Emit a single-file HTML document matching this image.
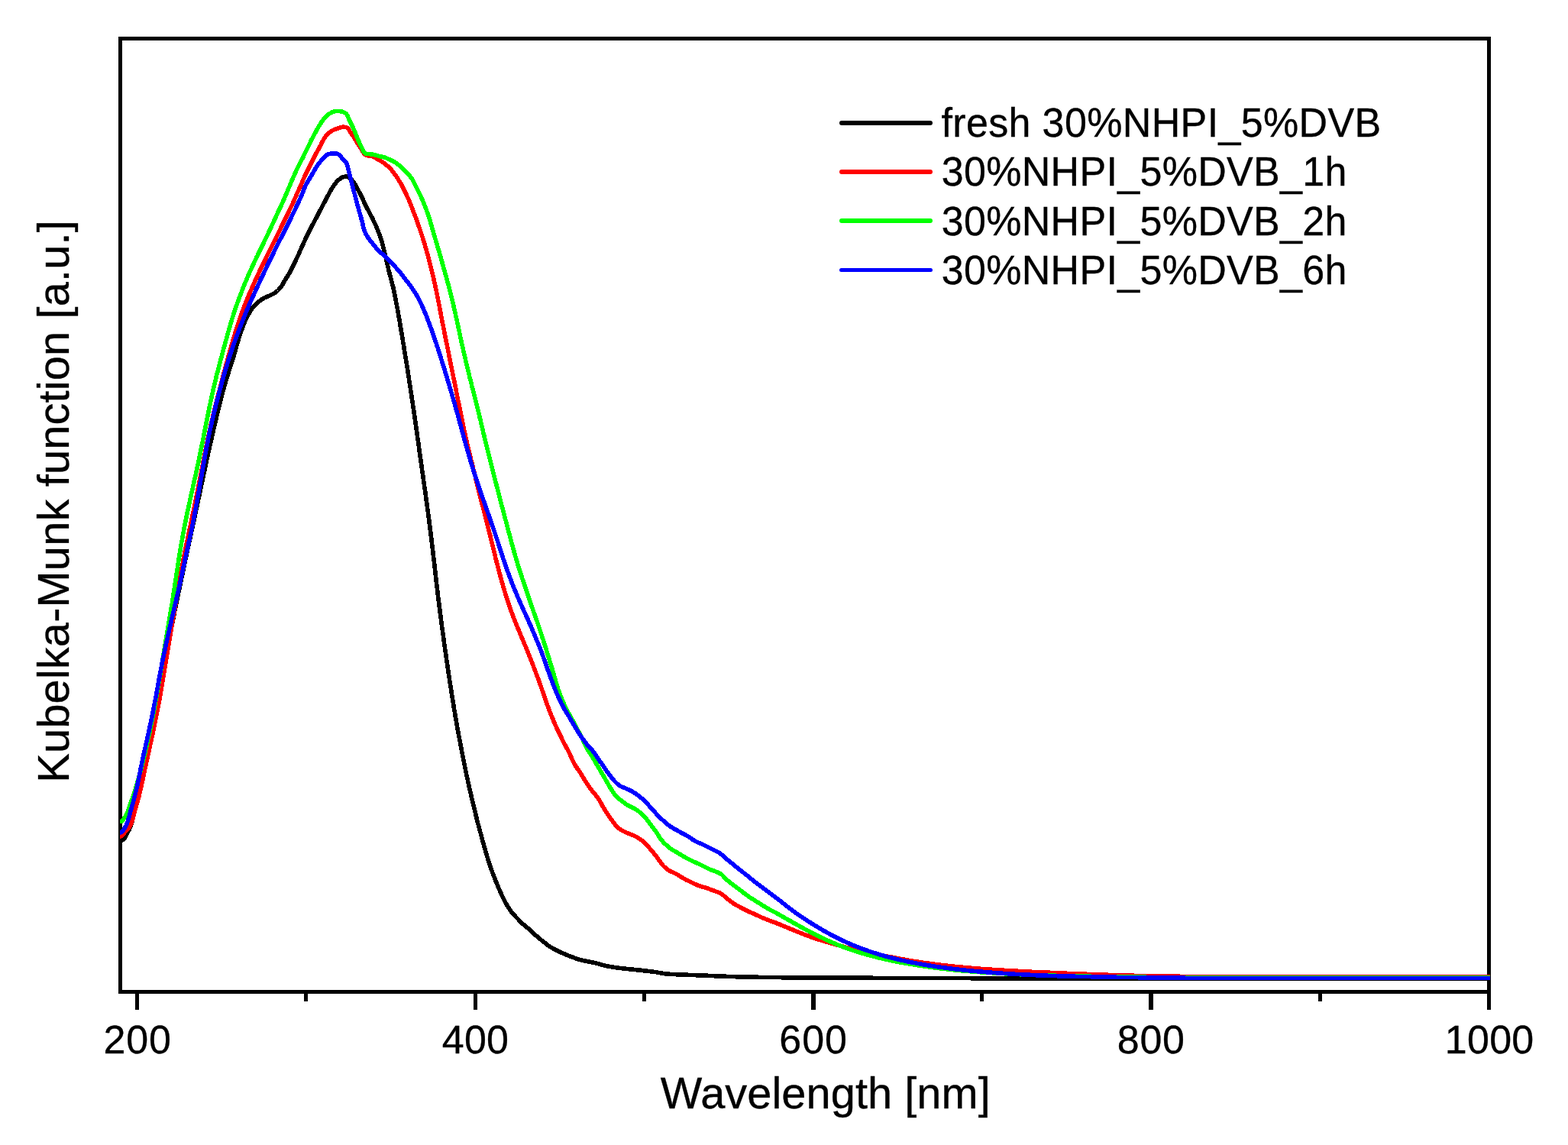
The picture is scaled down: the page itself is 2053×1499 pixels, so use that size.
<!DOCTYPE html>
<html lang="en">
<head>
<meta charset="utf-8">
<title>Kubelka-Munk function vs Wavelength</title>
<style>
html,body{margin:0;padding:0;background:#fff;}
body{width:2053px;height:1499px;overflow:hidden;}
svg{display:block;}
text{font-family:"Liberation Sans",Arial,Helvetica,sans-serif;fill:#000;stroke:#000;stroke-width:0.35px;white-space:pre;}
.curve{fill:none;stroke-width:5.6;stroke-linejoin:round;stroke-linecap:butt;}
</style>
</head>
<body>
<svg width="2053" height="1499" viewBox="0 0 2053 1499">
<rect x="0" y="0" width="2053" height="1499" fill="#ffffff"/>
<defs><clipPath id="plotclip"><rect x="157" y="50" width="1794" height="1249"/></clipPath></defs>
<!-- frame -->
<g fill="#000">
<rect x="155" y="48" width="1797" height="5"/>
<rect x="155" y="1296" width="1797" height="5"/>
<rect x="155" y="48" width="5" height="1253"/>
<rect x="1947" y="48" width="5" height="1253"/>
<!-- ticks -->
<rect x="177" y="1298" width="5" height="24"/>
<rect x="620" y="1298" width="5" height="24"/>
<rect x="1062" y="1298" width="6" height="24"/>
<rect x="1504" y="1298" width="6" height="24"/>
<rect x="1947" y="1298" width="5" height="24"/>
<rect x="398" y="1298" width="5" height="13"/>
<rect x="841" y="1298" width="5" height="13"/>
<rect x="1283" y="1298" width="5" height="13"/>
<rect x="1726" y="1298" width="5" height="13"/>
</g>
<!-- curves -->
<g clip-path="url(#plotclip)" shape-rendering="crispEdges">
<path class="curve" stroke="#000000" d="M154.0,1099.0 158.8,1099.9 160.7,1099.7 162.1,1098.5 163.3,1096.9 164.3,1095.1 165.2,1093.3 166.2,1091.5 167.1,1089.8 168.1,1088.0 169.0,1086.3 169.9,1084.5 170.7,1082.6 171.4,1080.8 172.1,1078.9 172.6,1077.0 173.1,1075.0 173.6,1073.1 174.0,1071.1 174.4,1069.2 174.8,1067.2 175.3,1065.3 175.7,1063.3 176.2,1061.4 176.7,1059.4 177.2,1057.5 177.7,1055.6 178.2,1053.6 178.8,1051.7 179.3,1049.8 179.9,1047.9 180.4,1045.9 180.9,1044.0 181.4,1042.1 181.9,1040.1 182.4,1038.2 182.9,1036.2 183.3,1034.3 183.8,1032.4 184.2,1030.4 184.7,1028.5 185.1,1026.5 185.5,1024.5 185.9,1022.6 186.3,1020.6 186.7,1018.7 187.2,1016.7 187.6,1014.8 188.0,1012.8 188.4,1010.8 188.8,1008.9 189.2,1006.9 189.6,1005.0 190.1,1003.0 190.5,1001.1 190.9,999.1 191.3,997.2 191.8,995.2 192.2,993.2 192.6,991.3 193.1,989.3 193.5,987.4 193.9,985.4 194.4,983.5 194.8,981.5 195.2,979.6 195.6,977.6 196.1,975.7 196.5,973.7 196.9,971.8 197.4,969.8 197.8,967.9 198.2,965.9 198.6,963.9 199.0,962.0 199.5,960.0 199.9,958.1 200.3,956.1 200.7,954.2 201.1,952.2 201.5,950.2 201.9,948.3 202.3,946.3 202.7,944.4 203.1,942.4 203.5,940.4 203.9,938.5 204.3,936.5 204.7,934.6 205.1,932.6 205.5,930.6 205.9,928.7 206.2,926.7 206.6,924.8 207.0,922.8 207.4,920.8 207.7,918.9 208.1,916.9 208.4,914.9 208.8,913.0 209.1,911.0 209.5,909.0 209.8,907.0 210.2,905.1 210.5,903.1 210.8,901.1 211.1,899.2 211.5,897.2 211.8,895.2 212.1,893.2 212.4,891.3 212.8,889.3 213.1,887.3 213.4,885.3 213.7,883.4 214.1,881.4 214.4,879.4 214.7,877.4 215.0,875.5 215.4,873.5 215.7,871.5 216.0,869.6 216.4,867.6 216.7,865.6 217.0,863.6 217.4,861.7 217.7,859.7 218.0,857.7 218.4,855.8 218.7,853.8 219.1,851.8 219.4,849.9 219.8,847.9 220.1,845.9 220.5,843.9 220.8,842.0 221.2,840.0 221.5,838.0 221.9,836.1 222.2,834.1 222.6,832.1 223.0,830.2 223.3,828.2 223.7,826.3 224.1,824.3 224.4,822.3 224.8,820.4 225.2,818.4 225.6,816.4 225.9,814.5 226.3,812.5 226.7,810.5 227.1,808.6 227.5,806.6 227.8,804.7 228.2,802.7 228.6,800.7 229.0,798.8 229.4,796.8 229.8,794.9 230.2,792.9 230.6,790.9 231.0,789.0 231.4,787.0 231.8,785.1 232.2,783.1 232.6,781.1 233.0,779.2 233.4,777.2 233.9,775.3 234.3,773.3 234.7,771.4 235.1,769.4 235.5,767.4 235.9,765.5 236.3,763.5 236.7,761.6 237.1,759.6 237.6,757.7 238.0,755.7 238.4,753.7 238.8,751.8 239.2,749.8 239.6,747.9 240.0,745.9 240.4,743.9 240.8,742.0 241.2,740.0 241.6,738.1 242.1,736.1 242.5,734.2 242.9,732.2 243.3,730.2 243.7,728.3 244.1,726.3 244.5,724.4 245.0,722.4 245.4,720.5 245.8,718.5 246.2,716.6 246.7,714.6 247.1,712.7 247.5,710.7 248.0,708.7 248.4,706.8 248.8,704.8 249.2,702.9 249.7,700.9 250.1,699.0 250.5,697.0 250.9,695.1 251.4,693.1 251.8,691.2 252.2,689.2 252.6,687.3 253.1,685.3 253.5,683.3 253.9,681.4 254.3,679.4 254.8,677.5 255.2,675.5 255.6,673.6 256.0,671.6 256.4,669.7 256.8,667.7 257.3,665.7 257.7,663.8 258.1,661.8 258.5,659.9 258.9,657.9 259.3,656.0 259.7,654.0 260.1,652.0 260.5,650.1 261.0,648.1 261.4,646.2 261.8,644.2 262.2,642.3 262.6,640.3 263.0,638.3 263.4,636.4 263.8,634.4 264.3,632.5 264.7,630.5 265.1,628.6 265.5,626.6 265.9,624.6 266.3,622.7 266.7,620.7 267.2,618.8 267.6,616.8 268.0,614.9 268.4,612.9 268.8,611.0 269.3,609.0 269.7,607.0 270.1,605.1 270.5,603.1 270.9,601.2 271.4,599.2 271.8,597.3 272.2,595.3 272.6,593.4 273.1,591.4 273.5,589.5 273.9,587.5 274.4,585.5 274.8,583.6 275.2,581.6 275.7,579.7 276.1,577.7 276.6,575.8 277.0,573.8 277.4,571.9 277.9,569.9 278.3,568.0 278.8,566.0 279.2,564.1 279.7,562.1 280.1,560.2 280.6,558.2 281.0,556.3 281.5,554.4 281.9,552.4 282.4,550.5 282.9,548.5 283.3,546.6 283.8,544.6 284.3,542.7 284.7,540.7 285.2,538.8 285.7,536.8 286.1,534.9 286.6,533.0 287.1,531.0 287.6,529.1 288.0,527.1 288.5,525.2 289.0,523.2 289.5,521.3 290.0,519.4 290.5,517.4 291.0,515.5 291.5,513.6 292.1,511.6 292.6,509.7 293.1,507.8 293.7,505.9 294.2,503.9 294.8,502.0 295.3,500.1 295.9,498.2 296.5,496.3 297.1,494.4 297.7,492.4 298.3,490.5 298.9,488.6 299.5,486.7 300.1,484.8 300.7,482.9 301.3,481.0 302.0,479.1 302.6,477.2 303.3,475.3 303.9,473.4 304.5,471.5 305.1,469.6 305.7,467.7 306.2,465.8 306.7,463.9 307.3,461.9 307.8,460.0 308.3,458.1 308.8,456.1 309.4,454.2 309.9,452.3 310.5,450.4 311.1,448.5 311.6,446.5 312.2,444.6 312.8,442.7 313.4,440.8 314.0,438.9 314.6,437.0 315.3,435.1 315.9,433.2 316.6,431.3 317.3,429.5 318.0,427.6 318.7,425.7 319.5,423.9 320.2,422.0 321.0,420.2 321.8,418.4 322.7,416.5 323.6,414.8 324.5,413.0 325.5,411.2 326.5,409.5 327.5,407.8 328.6,406.1 329.7,404.4 330.9,402.8 332.1,401.2 333.4,399.7 334.8,398.3 336.2,396.9 337.8,395.7 339.4,394.4 341.0,393.3 342.6,392.1 344.3,391.0 346.0,390.0 347.8,389.2 349.7,388.4 351.5,387.7 353.4,386.9 355.2,386.0 357.0,385.1 358.7,384.1 360.4,383.0 362.0,381.8 363.5,380.5 364.9,379.1 366.3,377.6 367.5,376.1 368.7,374.4 369.8,372.8 370.8,371.0 371.7,369.3 372.7,367.5 373.8,365.8 374.8,364.1 375.9,362.5 377.0,360.8 378.0,359.1 379.0,357.3 380.0,355.6 380.9,353.8 381.8,352.0 382.7,350.2 383.6,348.4 384.5,346.6 385.3,344.8 386.2,343.0 387.1,341.2 387.9,339.4 388.8,337.6 389.6,335.8 390.5,334.0 391.3,332.2 392.1,330.3 392.9,328.5 393.7,326.7 394.5,324.9 395.3,323.0 396.1,321.2 397.0,319.4 397.8,317.5 398.6,315.7 399.5,313.9 400.3,312.1 401.2,310.3 402.1,308.5 402.9,306.7 403.8,304.9 404.7,303.1 405.6,301.4 406.5,299.6 407.4,297.8 408.3,296.0 409.3,294.2 410.2,292.5 411.1,290.7 412.1,288.9 413.0,287.2 414.0,285.4 414.9,283.6 415.8,281.9 416.8,280.1 417.7,278.3 418.6,276.5 419.5,274.8 420.4,273.0 421.4,271.2 422.3,269.4 423.2,267.7 424.1,265.9 425.1,264.1 426.0,262.3 426.9,260.6 427.9,258.8 428.8,257.0 429.8,255.3 430.7,253.5 431.7,251.8 432.7,250.0 433.7,248.3 434.7,246.6 435.7,244.9 436.8,243.2 438.0,241.6 439.2,240.0 440.5,238.4 441.8,237.0 443.3,235.6 444.8,234.3 446.4,233.1 448.2,232.2 450.1,231.5 452.1,231.1 454.0,231.1 455.8,231.6 457.5,232.7 459.0,234.0 460.5,235.4 461.8,236.9 463.1,238.4 464.2,240.1 465.2,241.8 466.1,243.6 467.0,245.4 468.0,247.1 468.9,248.9 469.9,250.7 470.9,252.4 471.8,254.2 472.7,255.9 473.6,257.7 474.5,259.5 475.3,261.3 476.1,263.2 476.9,265.0 477.7,266.8 478.6,268.7 479.5,270.4 480.4,272.2 481.4,274.0 482.3,275.7 483.2,277.5 484.2,279.3 485.1,281.0 486.0,282.8 487.0,284.6 487.9,286.4 488.7,288.2 489.6,290.0 490.4,291.8 491.3,293.6 492.1,295.4 492.9,297.3 493.6,299.1 494.4,301.0 495.1,302.8 495.9,304.7 496.6,306.6 497.3,308.4 498.0,310.3 498.6,312.2 499.2,314.1 499.8,316.0 500.3,317.9 500.9,319.9 501.4,321.8 501.8,323.8 502.3,325.7 502.8,327.6 503.3,329.6 503.8,331.5 504.2,333.5 504.7,335.4 505.2,337.4 505.6,339.3 506.1,341.2 506.5,343.2 507.0,345.1 507.4,347.1 507.8,349.1 508.3,351.0 508.7,353.0 509.2,354.9 509.7,356.8 510.2,358.8 510.7,360.7 511.2,362.6 511.8,364.6 512.3,366.5 512.8,368.4 513.3,370.3 513.8,372.3 514.3,374.2 514.8,376.2 515.2,378.1 515.6,380.1 516.0,382.0 516.4,384.0 516.8,386.0 517.2,387.9 517.6,389.9 518.0,391.9 518.3,393.8 518.7,395.8 519.1,397.8 519.5,399.7 519.8,401.7 520.2,403.6 520.6,405.6 520.9,407.6 521.3,409.5 521.6,411.5 522.0,413.5 522.3,415.5 522.7,417.4 523.0,419.4 523.4,421.4 523.7,423.3 524.0,425.3 524.3,427.3 524.7,429.3 525.0,431.2 525.3,433.2 525.6,435.2 526.0,437.1 526.3,439.1 526.6,441.1 527.0,443.1 527.3,445.0 527.6,447.0 527.9,449.0 528.3,451.0 528.6,452.9 528.9,454.9 529.2,456.9 529.5,458.9 529.9,460.8 530.2,462.8 530.5,464.8 530.8,466.8 531.1,468.7 531.5,470.7 531.8,472.7 532.1,474.7 532.4,476.6 532.7,478.6 533.1,480.6 533.4,482.6 533.7,484.5 534.0,486.5 534.3,488.5 534.6,490.5 534.9,492.4 535.2,494.4 535.5,496.4 535.8,498.4 536.1,500.3 536.4,502.3 536.7,504.3 537.0,506.3 537.3,508.2 537.6,510.2 537.9,512.2 538.2,514.2 538.5,516.2 538.8,518.1 539.1,520.1 539.4,522.1 539.7,524.1 540.0,526.0 540.3,528.0 540.6,530.0 540.9,532.0 541.2,534.0 541.5,535.9 541.8,537.9 542.1,539.9 542.3,541.9 542.6,543.9 542.9,545.8 543.2,547.8 543.5,549.8 543.8,551.8 544.0,553.8 544.3,555.7 544.6,557.7 544.9,559.7 545.2,561.7 545.5,563.7 545.7,565.6 546.0,567.6 546.3,569.6 546.6,571.6 546.8,573.6 547.1,575.5 547.4,577.5 547.7,579.5 547.9,581.5 548.2,583.5 548.5,585.4 548.8,587.4 549.0,589.4 549.3,591.4 549.6,593.4 549.8,595.3 550.1,597.3 550.4,599.3 550.7,601.3 551.0,603.3 551.2,605.3 551.5,607.2 551.8,609.2 552.1,611.2 552.4,613.2 552.6,615.2 552.9,617.1 553.2,619.1 553.5,621.1 553.8,623.1 554.1,625.1 554.3,627.0 554.6,629.0 554.9,631.0 555.2,633.0 555.5,635.0 555.7,636.9 556.0,638.9 556.3,640.9 556.6,642.9 556.9,644.9 557.1,646.8 557.4,648.8 557.7,650.8 558.0,652.8 558.2,654.8 558.5,656.7 558.8,658.7 559.0,660.7 559.3,662.7 559.6,664.7 559.8,666.7 560.1,668.6 560.4,670.6 560.6,672.6 560.9,674.6 561.1,676.6 561.4,678.5 561.7,680.5 561.9,682.5 562.2,684.5 562.4,686.5 562.7,688.5 562.9,690.4 563.2,692.4 563.4,694.4 563.7,696.4 563.9,698.4 564.2,700.4 564.4,702.4 564.7,704.3 564.9,706.3 565.1,708.3 565.4,710.3 565.6,712.3 565.9,714.3 566.1,716.3 566.3,718.2 566.6,720.2 566.8,722.2 567.0,724.2 567.3,726.2 567.5,728.2 567.7,730.2 568.0,732.1 568.2,734.1 568.4,736.1 568.7,738.1 568.9,740.1 569.1,742.1 569.3,744.1 569.6,746.0 569.8,748.0 570.0,750.0 570.2,752.0 570.5,754.0 570.7,756.0 570.9,758.0 571.1,760.0 571.4,762.0 571.6,763.9 571.8,765.9 572.1,767.9 572.3,769.9 572.5,771.9 572.8,773.9 573.0,775.9 573.2,777.8 573.5,779.8 573.7,781.8 574.0,783.8 574.2,785.8 574.5,787.8 574.7,789.7 575.0,791.7 575.2,793.7 575.5,795.7 575.7,797.7 576.0,799.7 576.2,801.7 576.5,803.6 576.7,805.6 577.0,807.6 577.3,809.6 577.5,811.6 577.8,813.5 578.1,815.5 578.3,817.5 578.6,819.5 578.8,821.5 579.1,823.5 579.4,825.4 579.6,827.4 579.9,829.4 580.2,831.4 580.5,833.4 580.7,835.3 581.0,837.3 581.3,839.3 581.5,841.3 581.8,843.3 582.1,845.3 582.4,847.2 582.6,849.2 582.9,851.2 583.2,853.2 583.5,855.2 583.8,857.1 584.0,859.1 584.3,861.1 584.6,863.1 584.9,865.1 585.2,867.0 585.5,869.0 585.8,871.0 586.0,873.0 586.3,874.9 586.6,876.9 586.9,878.9 587.2,880.9 587.5,882.9 587.8,884.8 588.1,886.8 588.4,888.8 588.7,890.8 589.0,892.7 589.3,894.7 589.6,896.7 589.9,898.7 590.3,900.7 590.6,902.6 590.9,904.6 591.2,906.6 591.5,908.6 591.8,910.5 592.1,912.5 592.4,914.5 592.7,916.5 593.0,918.4 593.4,920.4 593.7,922.4 594.0,924.4 594.3,926.3 594.6,928.3 595.0,930.3 595.3,932.2 595.6,934.2 596.0,936.2 596.3,938.2 596.7,940.1 597.0,942.1 597.3,944.1 597.7,946.0 598.0,948.0 598.4,950.0 598.7,951.9 599.1,953.9 599.4,955.9 599.8,957.9 600.2,959.8 600.5,961.8 600.9,963.8 601.2,965.7 601.6,967.7 602.0,969.7 602.4,971.6 602.7,973.6 603.1,975.6 603.5,977.5 603.9,979.5 604.2,981.4 604.6,983.4 605.0,985.4 605.4,987.3 605.8,989.3 606.2,991.3 606.6,993.2 606.9,995.2 607.3,997.1 607.7,999.1 608.1,1001.1 608.5,1003.0 608.9,1005.0 609.3,1006.9 609.7,1008.9 610.1,1010.9 610.5,1012.8 610.9,1014.8 611.4,1016.7 611.8,1018.7 612.2,1020.6 612.6,1022.6 613.0,1024.6 613.5,1026.5 613.9,1028.5 614.3,1030.4 614.7,1032.4 615.2,1034.3 615.6,1036.3 616.1,1038.2 616.6,1040.2 617.0,1042.1 617.5,1044.0 618.0,1046.0 618.5,1047.9 618.9,1049.9 619.4,1051.8 619.9,1053.8 620.4,1055.7 620.8,1057.6 621.3,1059.6 621.7,1061.5 622.2,1063.5 622.7,1065.4 623.1,1067.4 623.6,1069.3 624.1,1071.3 624.5,1073.2 625.0,1075.1 625.5,1077.1 626.0,1079.0 626.6,1080.9 627.1,1082.9 627.6,1084.8 628.1,1086.7 628.6,1088.7 629.2,1090.6 629.7,1092.5 630.2,1094.5 630.7,1096.4 631.2,1098.3 631.8,1100.3 632.3,1102.2 632.8,1104.1 633.4,1106.0 633.9,1108.0 634.5,1109.9 635.0,1111.8 635.6,1113.7 636.1,1115.6 636.7,1117.6 637.3,1119.5 637.8,1121.4 638.4,1123.3 639.0,1125.2 639.6,1127.1 640.2,1129.0 640.8,1130.9 641.5,1132.8 642.1,1134.7 642.8,1136.6 643.4,1138.5 644.1,1140.4 644.8,1142.3 645.5,1144.1 646.2,1146.0 646.9,1147.9 647.7,1149.7 648.4,1151.6 649.1,1153.5 649.9,1155.3 650.6,1157.2 651.4,1159.0 652.2,1160.9 652.9,1162.7 653.7,1164.5 654.5,1166.4 655.3,1168.2 656.2,1170.0 657.0,1171.8 657.8,1173.7 658.7,1175.5 659.6,1177.3 660.5,1179.0 661.4,1180.8 662.4,1182.6 663.4,1184.3 664.4,1186.0 665.4,1187.7 666.5,1189.4 667.6,1191.1 668.8,1192.7 670.0,1194.3 671.3,1195.8 672.6,1197.3 674.0,1198.8 675.3,1200.3 676.7,1201.7 678.1,1203.1 679.5,1204.6 680.9,1206.0 682.3,1207.4 683.7,1208.8 685.2,1210.2 686.7,1211.5 688.2,1212.8 689.8,1214.1 691.3,1215.3 692.8,1216.6 694.4,1217.9 695.8,1219.3 697.3,1220.7 698.7,1222.1 700.2,1223.4 701.7,1224.7 703.2,1226.0 704.7,1227.3 706.3,1228.6 707.8,1229.9 709.3,1231.2 710.8,1232.5 712.5,1233.7 714.1,1234.8 715.7,1236.0 717.2,1237.3 718.8,1238.5 720.5,1239.6 722.2,1240.6 723.9,1241.6 725.7,1242.5 727.5,1243.5 729.3,1244.3 731.1,1245.2 732.9,1246.1 734.7,1247.0 736.5,1247.8 738.3,1248.6 740.2,1249.4 742.0,1250.2 743.9,1250.9 745.7,1251.7 747.6,1252.4 749.5,1253.1 751.3,1253.8 753.2,1254.5 755.1,1255.2 757.0,1255.8 758.9,1256.4 760.8,1256.9 762.8,1257.3 764.7,1257.8 766.7,1258.2 768.7,1258.5 770.6,1258.9 772.6,1259.3 774.6,1259.7 776.5,1260.1 778.5,1260.5 780.4,1261.0 782.3,1261.5 784.3,1262.0 786.2,1262.6 788.1,1263.1 790.1,1263.6 792.0,1264.1 793.9,1264.6 795.9,1265.0 797.9,1265.4 799.8,1265.7 801.8,1266.0 803.8,1266.3 805.8,1266.6 807.7,1266.9 809.7,1267.1 811.7,1267.4 813.7,1267.6 815.7,1267.9 817.7,1268.1 819.7,1268.3 821.6,1268.5 823.6,1268.7 825.6,1268.9 827.6,1269.1 829.6,1269.3 831.6,1269.5 833.6,1269.7 835.6,1269.9 837.6,1270.1 839.6,1270.3 841.5,1270.6 843.5,1270.8 845.5,1271.0 847.5,1271.3 849.5,1271.5 851.5,1271.7 853.5,1272.0 855.4,1272.2 857.4,1272.5 859.4,1272.8 861.4,1273.2 863.3,1273.5 865.3,1273.9 867.3,1274.2 869.3,1274.5 871.2,1274.8 873.2,1275.0 875.2,1275.2 877.2,1275.3 879.2,1275.4 881.2,1275.5 883.2,1275.6 885.2,1275.7 887.2,1275.7 889.2,1275.8 891.2,1275.9 893.2,1275.9 895.2,1276.0 897.2,1276.1 899.2,1276.2 901.2,1276.3 903.2,1276.3 905.2,1276.4 907.2,1276.5 909.2,1276.6 911.2,1276.7 913.2,1276.7 915.2,1276.8 917.2,1276.9 919.2,1277.0 921.2,1277.0 923.2,1277.1 925.2,1277.2 927.2,1277.3 929.2,1277.4 931.2,1277.5 933.2,1277.6 935.2,1277.7 937.2,1277.8 939.2,1277.8 941.2,1277.9 943.2,1278.0 945.2,1278.1 947.2,1278.2 949.1,1278.2 951.1,1278.3 953.1,1278.4 955.1,1278.4 957.1,1278.5 959.1,1278.5 961.1,1278.6 963.1,1278.7 965.1,1278.7 967.1,1278.8 969.1,1278.8 971.1,1278.9 973.1,1278.9 975.1,1278.9 977.1,1279.0 979.1,1279.0 981.1,1279.1 983.1,1279.1 985.1,1279.1 987.1,1279.2 989.1,1279.2 991.1,1279.2 993.1,1279.3 995.1,1279.3 997.1,1279.3 999.1,1279.4 1001.1,1279.4 1003.1,1279.4 1005.1,1279.5 1007.1,1279.5 1009.1,1279.5 1011.1,1279.5 1013.1,1279.6 1015.1,1279.6 1017.1,1279.6 1019.1,1279.6 1021.1,1279.6 1023.1,1279.7 1025.1,1279.7 1027.1,1279.7 1029.1,1279.7 1031.1,1279.7 1033.1,1279.7 1035.1,1279.8 1037.1,1279.8 1039.1,1279.8 1041.1,1279.8 1043.1,1279.8 1045.1,1279.8 1047.1,1279.9 1049.1,1279.9 1051.1,1279.9 1053.1,1279.9 1055.1,1279.9 1057.1,1279.9 1059.1,1279.9 1061.1,1279.9 1063.1,1280.0 1065.1,1280.0 1067.1,1280.0 1069.1,1280.0 1071.1,1280.0 1073.1,1280.0 1075.1,1280.0 1077.1,1280.0 1079.1,1280.0 1081.1,1280.1 1083.1,1280.1 1085.1,1280.1 1087.1,1280.1 1089.1,1280.1 1091.1,1280.1 1093.1,1280.1 1095.1,1280.1 1097.1,1280.1 1099.1,1280.1 1101.1,1280.1 1103.1,1280.1 1105.1,1280.1 1107.1,1280.1 1109.1,1280.2 1111.1,1280.2 1113.1,1280.2 1115.1,1280.2 1117.1,1280.2 1119.1,1280.2 1121.1,1280.2 1123.1,1280.2 1125.1,1280.2 1127.1,1280.2 1129.1,1280.2 1131.1,1280.2 1133.1,1280.2 1135.1,1280.2 1137.1,1280.2 1139.1,1280.2 1141.1,1280.2 1143.1,1280.3 1145.1,1280.3 1147.1,1280.3 1149.1,1280.3 1151.1,1280.3 1153.1,1280.3 1155.1,1280.3 1157.1,1280.3 1159.1,1280.3 1161.1,1280.3 1163.1,1280.3 1165.1,1280.3 1167.1,1280.3 1169.1,1280.3 1171.1,1280.3 1173.1,1280.3 1175.1,1280.4 1177.1,1280.4 1179.1,1280.4 1181.1,1280.4 1183.1,1280.4 1185.1,1280.4 1187.1,1280.4 1189.1,1280.4 1191.1,1280.4 1193.1,1280.4 1195.1,1280.4 1197.1,1280.4 1199.1,1280.4 1201.1,1280.4 1203.1,1280.4 1205.1,1280.5 1207.1,1280.5 1209.1,1280.5 1211.1,1280.5 1213.1,1280.5 1215.1,1280.5 1217.1,1280.5 1219.1,1280.5 1221.1,1280.5 1223.1,1280.5 1225.1,1280.5 1227.1,1280.5 1229.1,1280.5 1231.1,1280.5 1233.1,1280.6 1235.1,1280.6 1237.1,1280.6 1239.1,1280.6 1241.1,1280.6 1243.1,1280.6 1245.1,1280.6 1247.1,1280.6 1249.1,1280.6 1251.1,1280.6 1253.1,1280.6 1255.1,1280.6 1257.1,1280.6 1259.1,1280.6 1261.1,1280.6 1263.1,1280.6 1265.1,1280.6 1267.1,1280.6 1269.1,1280.6 1271.1,1280.7 1273.1,1280.7 1275.1,1280.7 1277.1,1280.7 1279.1,1280.7 1281.1,1280.7 1283.1,1280.7 1285.1,1280.7 1287.1,1280.7 1289.1,1280.7 1291.1,1280.7 1293.1,1280.7 1295.1,1280.7 1297.1,1280.7 1299.1,1280.7 1301.1,1280.7 1303.1,1280.7 1305.1,1280.7 1307.1,1280.7 1309.1,1280.7 1311.1,1280.7 1313.1,1280.7 1315.1,1280.7 1317.1,1280.7 1319.1,1280.7 1321.1,1280.7 1323.1,1280.7 1325.1,1280.7 1327.1,1280.7 1329.1,1280.7 1331.1,1280.7 1333.1,1280.7 1335.1,1280.7 1337.1,1280.7 1339.1,1280.7 1341.1,1280.7 1343.1,1280.7 1345.1,1280.7 1347.1,1280.7 1349.1,1280.7 1351.1,1280.7 1353.1,1280.7 1355.1,1280.7 1357.1,1280.7 1359.1,1280.7 1361.1,1280.7 1363.1,1280.7 1365.1,1280.7 1367.1,1280.7 1369.1,1280.7 1371.1,1280.7 1373.1,1280.7 1375.1,1280.7 1377.1,1280.7 1379.1,1280.7 1381.1,1280.7 1383.1,1280.7 1385.1,1280.7 1387.1,1280.7 1389.1,1280.7 1391.1,1280.7 1393.1,1280.7 1395.1,1280.7 1397.1,1280.7 1399.1,1280.7 1401.1,1280.7 1403.1,1280.7 1405.1,1280.8 1407.1,1280.8 1409.1,1280.8 1411.1,1280.8 1413.1,1280.8 1415.1,1280.8 1417.1,1280.8 1419.1,1280.8 1421.1,1280.8 1423.1,1280.8 1425.1,1280.8 1427.1,1280.8 1429.1,1280.8 1431.1,1280.8 1433.1,1280.8 1435.1,1280.8 1437.1,1280.8 1439.1,1280.8 1441.1,1280.8 1443.1,1280.8 1445.1,1280.8 1447.1,1280.8 1449.1,1280.8 1451.1,1280.8 1453.1,1280.8 1455.1,1280.8 1457.1,1280.8 1459.1,1280.8 1461.1,1280.8 1463.1,1280.8 1465.1,1280.8 1467.1,1280.8 1469.1,1280.8 1471.1,1280.8 1473.1,1280.8 1475.1,1280.8 1477.1,1280.8 1479.1,1280.8 1481.1,1280.8 1483.1,1280.8 1485.1,1280.8 1487.1,1280.8 1489.1,1280.8 1491.1,1280.8 1493.1,1280.8 1495.1,1280.8 1497.1,1280.8 1499.1,1280.8 1501.1,1280.8 1503.1,1280.8 1505.1,1280.8 1507.1,1280.8 1509.1,1280.8 1511.1,1280.8 1513.1,1280.8 1515.1,1280.8 1517.1,1280.8 1519.1,1280.8 1521.1,1280.8 1523.1,1280.8 1525.1,1280.8 1527.1,1280.8 1529.1,1280.8 1531.1,1280.8 1533.1,1280.8 1535.1,1280.8 1537.1,1280.8 1539.1,1280.8 1541.1,1280.8 1543.1,1280.8 1545.1,1280.8 1547.1,1280.8 1549.1,1280.8 1551.1,1280.8 1553.1,1280.8 1555.1,1280.8 1557.1,1280.8 1559.1,1280.8 1561.1,1280.8 1563.1,1280.8 1565.1,1280.8 1567.1,1280.8 1569.1,1280.8 1571.1,1280.8 1573.1,1280.8 1575.1,1280.8 1577.1,1280.8 1579.1,1280.8 1581.1,1280.8 1583.1,1280.8 1585.1,1280.8 1587.1,1280.8 1589.1,1280.8 1591.1,1280.8 1593.1,1280.8 1595.1,1280.8 1597.1,1280.8 1599.1,1280.8 1601.1,1280.8 1603.1,1280.8 1605.1,1280.8 1607.1,1280.8 1609.1,1280.8 1611.1,1280.8 1613.1,1280.8 1615.1,1280.8 1617.1,1280.8 1619.1,1280.8 1621.1,1280.8 1623.1,1280.8 1625.1,1280.8 1627.1,1280.8 1629.1,1280.8 1631.1,1280.8 1633.1,1280.8 1635.1,1280.8 1637.1,1280.8 1639.1,1280.8 1641.1,1280.8 1643.1,1280.8 1645.1,1280.8 1647.1,1280.8 1649.1,1280.8 1651.1,1280.8 1653.1,1280.8 1655.1,1280.8 1657.1,1280.8 1659.1,1280.8 1661.1,1280.8 1663.1,1280.8 1665.1,1280.8 1667.1,1280.8 1669.1,1280.8 1671.1,1280.8 1673.1,1280.8 1675.1,1280.8 1677.1,1280.8 1679.1,1280.8 1681.1,1280.8 1683.1,1280.8 1685.1,1280.8 1687.1,1280.8 1689.1,1280.8 1691.1,1280.8 1693.1,1280.8 1695.1,1280.8 1697.1,1280.8 1699.1,1280.8 1701.1,1280.8 1703.1,1280.8 1705.1,1280.8 1707.1,1280.8 1709.1,1280.8 1711.1,1280.8 1713.1,1280.8 1715.1,1280.8 1717.1,1280.8 1719.1,1280.8 1721.1,1280.8 1723.1,1280.8 1725.1,1280.8 1727.1,1280.8 1729.1,1280.8 1731.1,1280.8 1733.1,1280.8 1735.1,1280.8 1737.1,1280.8 1739.1,1280.8 1741.1,1280.8 1743.1,1280.8 1745.1,1280.8 1747.1,1280.8 1749.1,1280.8 1751.1,1280.8 1753.1,1280.8 1755.1,1280.8 1757.1,1280.8 1759.1,1280.8 1761.1,1280.8 1763.1,1280.8 1765.1,1280.8 1767.1,1280.8 1769.1,1280.9 1771.1,1280.9 1773.1,1280.9 1775.1,1280.9 1777.1,1280.9 1779.1,1280.9 1781.1,1280.9 1783.1,1280.9 1785.1,1280.9 1787.1,1280.9 1789.1,1280.9 1791.1,1280.9 1793.1,1280.9 1795.1,1280.9 1797.1,1280.9 1799.1,1280.9 1801.1,1280.9 1803.1,1280.9 1805.1,1280.9 1807.1,1280.9 1809.1,1280.9 1811.1,1280.9 1813.1,1280.9 1815.1,1280.9 1817.1,1280.9 1819.1,1280.9 1821.1,1280.9 1823.1,1280.9 1825.1,1280.9 1827.1,1280.9 1829.1,1280.9 1831.1,1280.9 1833.1,1280.9 1835.1,1280.9 1837.1,1280.9 1839.1,1280.9 1841.1,1280.9 1843.1,1280.9 1845.1,1280.9 1847.1,1280.9 1849.1,1280.9 1851.1,1280.9 1853.1,1280.9 1855.1,1280.9 1857.1,1280.9 1859.1,1280.9 1861.1,1280.9 1863.1,1280.9 1865.1,1280.9 1867.1,1280.9 1869.1,1280.9 1871.1,1280.9 1873.1,1280.9 1875.1,1280.9 1877.1,1280.9 1879.1,1280.9 1881.1,1280.9 1883.1,1280.9 1885.1,1280.9 1887.1,1280.9 1889.1,1280.9 1891.1,1280.9 1893.1,1280.9 1895.1,1280.9 1897.1,1280.9 1899.1,1280.9 1901.1,1280.9 1903.1,1280.9 1905.1,1280.9 1907.1,1280.9 1909.1,1280.9 1911.1,1280.9 1913.1,1280.9 1915.1,1280.9 1917.1,1280.9 1919.1,1280.9 1921.1,1280.9 1923.1,1280.9 1925.1,1280.9 1927.1,1280.9 1929.1,1280.9 1931.1,1280.9 1933.1,1280.9 1935.1,1280.9 1937.1,1280.9 1939.1,1280.9 1941.1,1280.9 1943.1,1280.9 1945.1,1280.9 1947.1,1280.9 1949.1,1280.9 1953.0,1280.9"/>
<path class="curve" stroke="#ff0000" d="M154.0,1096.0 158.5,1094.6 159.9,1093.3 161.3,1091.8 162.7,1090.4 164.0,1088.9 165.4,1087.5 166.8,1086.0 168.1,1084.5 169.3,1082.9 170.3,1081.2 171.3,1079.4 172.0,1077.6 172.7,1075.7 173.3,1073.8 173.8,1071.8 174.4,1069.9 174.9,1068.0 175.4,1066.0 175.9,1064.1 176.4,1062.2 176.9,1060.2 177.5,1058.3 178.0,1056.4 178.6,1054.5 179.1,1052.6 179.7,1050.6 180.2,1048.7 180.7,1046.8 181.2,1044.8 181.8,1042.9 182.2,1041.0 182.7,1039.0 183.2,1037.1 183.7,1035.1 184.1,1033.2 184.6,1031.2 185.0,1029.3 185.4,1027.3 185.8,1025.4 186.2,1023.4 186.7,1021.5 187.1,1019.5 187.5,1017.5 187.9,1015.6 188.3,1013.6 188.7,1011.7 189.1,1009.7 189.5,1007.8 190.0,1005.8 190.4,1003.9 190.8,1001.9 191.2,999.9 191.7,998.0 192.1,996.0 192.5,994.1 193.0,992.1 193.4,990.2 193.8,988.2 194.2,986.3 194.7,984.3 195.1,982.4 195.5,980.4 196.0,978.5 196.4,976.5 196.8,974.6 197.3,972.6 197.7,970.6 198.1,968.7 198.5,966.7 199.0,964.8 199.4,962.8 199.8,960.9 200.2,958.9 200.6,957.0 201.0,955.0 201.4,953.0 201.8,951.1 202.2,949.1 202.6,947.2 203.0,945.2 203.4,943.2 203.8,941.3 204.2,939.3 204.6,937.4 205.0,935.4 205.4,933.4 205.8,931.5 206.2,929.5 206.6,927.6 207.0,925.6 207.3,923.6 207.7,921.7 208.1,919.7 208.4,917.7 208.8,915.8 209.2,913.8 209.5,911.8 209.8,909.9 210.2,907.9 210.5,905.9 210.9,904.0 211.2,902.0 211.5,900.0 211.9,898.0 212.2,896.1 212.5,894.1 212.9,892.1 213.2,890.1 213.5,888.2 213.8,886.2 214.2,884.2 214.5,882.3 214.8,880.3 215.1,878.3 215.5,876.3 215.8,874.4 216.1,872.4 216.5,870.4 216.8,868.4 217.1,866.5 217.4,864.5 217.8,862.5 218.1,860.5 218.4,858.6 218.7,856.6 219.1,854.6 219.4,852.7 219.7,850.7 220.0,848.7 220.4,846.7 220.7,844.8 221.0,842.8 221.4,840.8 221.7,838.8 222.0,836.9 222.3,834.9 222.7,832.9 223.0,831.0 223.3,829.0 223.7,827.0 224.0,825.0 224.3,823.1 224.7,821.1 225.0,819.1 225.3,817.2 225.7,815.2 226.0,813.2 226.3,811.2 226.7,809.3 227.0,807.3 227.3,805.3 227.7,803.4 228.0,801.4 228.4,799.4 228.7,797.4 229.0,795.5 229.4,793.5 229.7,791.5 230.0,789.6 230.4,787.6 230.7,785.6 231.1,783.6 231.4,781.7 231.7,779.7 232.1,777.7 232.4,775.8 232.8,773.8 233.1,771.8 233.4,769.9 233.8,767.9 234.1,765.9 234.5,763.9 234.8,762.0 235.2,760.0 235.5,758.0 235.9,756.1 236.2,754.1 236.6,752.1 236.9,750.2 237.3,748.2 237.6,746.2 238.0,744.2 238.3,742.3 238.7,740.3 239.1,738.3 239.4,736.4 239.8,734.4 240.2,732.5 240.5,730.5 240.9,728.5 241.3,726.6 241.7,724.6 242.1,722.6 242.5,720.7 242.9,718.7 243.3,716.8 243.7,714.8 244.1,712.8 244.5,710.9 244.9,708.9 245.3,707.0 245.7,705.0 246.1,703.1 246.5,701.1 247.0,699.1 247.4,697.2 247.8,695.2 248.2,693.3 248.6,691.3 249.0,689.4 249.5,687.4 249.9,685.5 250.3,683.5 250.7,681.5 251.1,679.6 251.5,677.6 251.9,675.7 252.3,673.7 252.8,671.8 253.2,669.8 253.6,667.8 254.0,665.9 254.4,663.9 254.8,662.0 255.2,660.0 255.6,658.0 256.0,656.1 256.4,654.1 256.8,652.2 257.2,650.2 257.6,648.2 258.0,646.3 258.4,644.3 258.8,642.4 259.2,640.4 259.5,638.4 259.9,636.5 260.3,634.5 260.7,632.6 261.1,630.6 261.5,628.6 261.9,626.7 262.2,624.7 262.6,622.7 263.0,620.8 263.4,618.8 263.8,616.8 264.1,614.9 264.5,612.9 264.9,611.0 265.3,609.0 265.6,607.0 266.0,605.1 266.4,603.1 266.8,601.1 267.2,599.2 267.5,597.2 267.9,595.2 268.3,593.3 268.7,591.3 269.1,589.4 269.5,587.4 269.9,585.4 270.3,583.5 270.7,581.5 271.1,579.6 271.5,577.6 271.9,575.6 272.3,573.7 272.7,571.7 273.1,569.8 273.6,567.8 274.0,565.9 274.4,563.9 274.9,562.0 275.3,560.0 275.7,558.1 276.2,556.1 276.6,554.2 277.1,552.2 277.5,550.3 278.0,548.3 278.5,546.4 278.9,544.4 279.4,542.5 279.9,540.5 280.3,538.6 280.8,536.7 281.3,534.7 281.8,532.8 282.2,530.8 282.7,528.9 283.2,527.0 283.7,525.0 284.2,523.1 284.7,521.1 285.2,519.2 285.7,517.3 286.2,515.3 286.7,513.4 287.2,511.5 287.7,509.5 288.2,507.6 288.7,505.6 289.2,503.7 289.7,501.8 290.2,499.8 290.7,497.9 291.2,496.0 291.7,494.0 292.2,492.1 292.7,490.2 293.2,488.2 293.7,486.3 294.3,484.4 294.8,482.4 295.3,480.5 295.8,478.6 296.3,476.6 296.9,474.7 297.4,472.8 297.9,470.8 298.5,468.9 299.0,467.0 299.5,465.1 300.1,463.1 300.6,461.2 301.1,459.3 301.7,457.4 302.2,455.4 302.8,453.5 303.3,451.6 303.9,449.7 304.4,447.7 305.0,445.8 305.6,443.9 306.1,442.0 306.7,440.1 307.3,438.2 307.9,436.2 308.4,434.3 309.0,432.4 309.6,430.5 310.2,428.6 310.9,426.7 311.5,424.8 312.1,422.9 312.7,421.0 313.4,419.1 314.0,417.2 314.6,415.3 315.3,413.4 316.0,411.6 316.6,409.7 317.3,407.8 318.0,405.9 318.7,404.1 319.4,402.2 320.1,400.3 320.9,398.5 321.6,396.6 322.3,394.7 323.1,392.9 323.8,391.0 324.6,389.2 325.4,387.4 326.1,385.5 326.9,383.7 327.7,381.8 328.5,380.0 329.3,378.2 330.1,376.3 330.9,374.5 331.8,372.7 332.6,370.9 333.4,369.1 334.2,367.2 335.1,365.4 335.9,363.6 336.8,361.8 337.6,360.0 338.4,358.2 339.3,356.4 340.1,354.5 341.0,352.7 341.9,350.9 342.7,349.1 343.6,347.3 344.5,345.5 345.3,343.7 346.2,341.9 347.1,340.1 348.0,338.3 348.9,336.5 349.7,334.7 350.6,333.0 351.5,331.2 352.4,329.4 353.3,327.6 354.2,325.8 355.1,324.0 356.0,322.2 356.9,320.4 357.8,318.6 358.7,316.8 359.6,315.1 360.5,313.3 361.4,311.5 362.2,309.7 363.1,307.9 364.0,306.1 364.9,304.3 365.7,302.5 366.6,300.7 367.5,298.9 368.3,297.1 369.2,295.3 370.1,293.5 370.9,291.7 371.8,289.9 372.7,288.1 373.6,286.3 374.4,284.5 375.3,282.7 376.2,280.9 377.1,279.1 378.0,277.3 378.8,275.5 379.7,273.7 380.6,271.9 381.5,270.1 382.3,268.3 383.2,266.5 384.0,264.7 384.9,262.9 385.7,261.0 386.4,259.2 387.2,257.4 388.0,255.5 388.8,253.7 389.6,251.9 390.4,250.0 391.3,248.2 392.1,246.4 393.0,244.6 393.8,242.8 394.6,240.9 395.4,239.1 396.1,237.3 396.9,235.4 397.7,233.6 398.5,231.7 399.3,229.9 400.2,228.1 401.0,226.3 401.9,224.5 402.8,222.7 403.7,220.9 404.6,219.1 405.5,217.3 406.4,215.6 407.3,213.8 408.2,212.0 409.1,210.2 410.0,208.4 410.9,206.7 411.9,204.9 412.8,203.1 413.7,201.3 414.7,199.6 415.7,197.8 416.6,196.1 417.6,194.3 418.5,192.6 419.5,190.8 420.4,189.0 421.2,187.2 422.1,185.4 423.1,183.7 424.1,181.9 425.2,180.3 426.3,178.6 427.6,177.1 428.9,175.6 430.4,174.3 432.0,173.1 433.7,171.9 435.4,170.9 437.1,170.0 439.0,169.2 440.9,168.6 442.8,167.9 444.6,167.2 446.5,166.6 448.5,166.3 450.5,166.2 452.5,166.5 454.3,167.1 455.8,168.3 456.9,169.9 457.9,171.7 459.0,173.4 460.1,175.0 461.3,176.6 462.5,178.3 463.6,179.9 464.6,181.6 465.7,183.3 466.7,185.1 467.7,186.8 468.7,188.5 469.8,190.2 470.9,191.9 472.0,193.5 473.2,195.2 474.2,196.8 475.2,198.6 476.2,200.3 477.4,201.9 479.0,203.1 480.8,203.7 482.8,204.0 484.8,204.2 486.8,204.6 488.6,205.2 490.4,206.1 492.2,207.1 493.9,208.1 495.7,209.1 497.4,210.1 499.1,211.1 500.7,212.2 502.4,213.4 504.0,214.6 505.6,215.8 507.1,217.1 508.6,218.4 510.0,219.8 511.4,221.3 512.8,222.7 514.0,224.3 515.3,225.9 516.5,227.5 517.6,229.1 518.7,230.7 519.9,232.4 521.0,234.1 522.0,235.8 523.1,237.5 524.1,239.2 525.1,240.9 526.1,242.7 527.0,244.4 527.9,246.2 528.8,248.0 529.7,249.8 530.6,251.6 531.5,253.4 532.3,255.2 533.1,257.0 534.0,258.8 534.8,260.7 535.6,262.5 536.3,264.4 537.1,266.2 537.8,268.1 538.5,269.9 539.3,271.8 540.0,273.7 540.7,275.5 541.4,277.4 542.1,279.3 542.9,281.1 543.6,283.0 544.3,284.9 545.0,286.7 545.7,288.6 546.4,290.5 547.0,292.4 547.7,294.3 548.3,296.2 549.0,298.1 549.6,300.0 550.3,301.8 550.9,303.7 551.5,305.6 552.2,307.5 552.8,309.4 553.4,311.3 554.0,313.2 554.6,315.2 555.2,317.1 555.8,319.0 556.4,320.9 556.9,322.8 557.5,324.7 558.0,326.6 558.6,328.6 559.1,330.5 559.7,332.4 560.2,334.3 560.7,336.3 561.2,338.2 561.7,340.1 562.2,342.1 562.7,344.0 563.2,346.0 563.7,347.9 564.2,349.8 564.6,351.8 565.1,353.7 565.6,355.7 566.1,357.6 566.5,359.5 567.0,361.5 567.4,363.4 567.9,365.4 568.3,367.3 568.7,369.3 569.2,371.2 569.6,373.2 570.0,375.2 570.4,377.1 570.9,379.1 571.3,381.0 571.7,383.0 572.1,384.9 572.5,386.9 572.9,388.9 573.3,390.8 573.7,392.8 574.1,394.7 574.4,396.7 574.8,398.7 575.2,400.6 575.6,402.6 576.0,404.6 576.3,406.5 576.7,408.5 577.1,410.5 577.5,412.4 577.8,414.4 578.2,416.4 578.6,418.3 578.9,420.3 579.3,422.3 579.7,424.2 580.1,426.2 580.5,428.1 580.9,430.1 581.3,432.1 581.7,434.0 582.0,436.0 582.4,437.9 582.8,439.9 583.2,441.9 583.6,443.8 584.0,445.8 584.4,447.8 584.8,449.7 585.2,451.7 585.6,453.6 586.0,455.6 586.4,457.6 586.8,459.5 587.2,461.5 587.6,463.4 588.0,465.4 588.3,467.4 588.7,469.3 589.1,471.3 589.5,473.2 589.9,475.2 590.3,477.2 590.7,479.1 591.1,481.1 591.5,483.0 591.9,485.0 592.3,486.9 592.7,488.9 593.1,490.9 593.5,492.8 593.9,494.8 594.3,496.7 594.7,498.7 595.1,500.7 595.5,502.6 595.9,504.6 596.3,506.6 596.7,508.5 597.1,510.5 597.5,512.4 597.8,514.4 598.2,516.4 598.6,518.3 599.0,520.3 599.4,522.2 599.8,524.2 600.2,526.2 600.6,528.1 601.0,530.1 601.4,532.0 601.8,534.0 602.2,535.9 602.6,537.9 603.0,539.9 603.5,541.8 603.8,543.8 604.2,545.7 604.6,547.7 605.0,549.7 605.4,551.6 605.8,553.6 606.2,555.5 606.6,557.5 607.0,559.5 607.4,561.4 607.8,563.4 608.2,565.3 608.6,567.3 609.1,569.3 609.5,571.2 609.9,573.2 610.3,575.1 610.8,577.1 611.2,579.0 611.7,581.0 612.1,582.9 612.6,584.9 613.0,586.8 613.5,588.7 614.0,590.7 614.4,592.6 614.9,594.6 615.4,596.5 615.9,598.4 616.4,600.4 616.8,602.3 617.3,604.3 617.8,606.2 618.3,608.1 618.8,610.1 619.3,612.0 619.7,614.0 620.2,615.9 620.7,617.8 621.2,619.8 621.7,621.7 622.2,623.7 622.6,625.6 623.1,627.5 623.6,629.5 624.1,631.4 624.6,633.4 625.0,635.3 625.5,637.2 626.0,639.2 626.5,641.1 627.0,643.1 627.5,645.0 628.0,646.9 628.4,648.9 628.9,650.8 629.4,652.7 629.9,654.7 630.4,656.6 630.9,658.6 631.4,660.5 631.9,662.4 632.4,664.4 632.9,666.3 633.4,668.2 633.9,670.2 634.4,672.1 634.9,674.0 635.4,676.0 635.9,677.9 636.4,679.9 636.9,681.8 637.4,683.7 637.9,685.7 638.3,687.6 638.8,689.5 639.3,691.5 639.8,693.4 640.3,695.3 640.8,697.3 641.3,699.2 641.8,701.2 642.2,703.1 642.7,705.0 643.2,707.0 643.7,708.9 644.1,710.9 644.6,712.8 645.1,714.8 645.5,716.7 646.0,718.6 646.5,720.6 646.9,722.5 647.4,724.5 647.9,726.4 648.4,728.4 648.8,730.3 649.3,732.2 649.8,734.2 650.3,736.1 650.8,738.1 651.3,740.0 651.8,741.9 652.3,743.9 652.8,745.8 653.3,747.7 653.8,749.7 654.4,751.6 654.9,753.5 655.4,755.5 655.9,757.4 656.5,759.3 657.0,761.2 657.5,763.2 658.1,765.1 658.6,767.0 659.2,768.9 659.8,770.8 660.3,772.8 660.9,774.7 661.5,776.6 662.1,778.5 662.7,780.4 663.3,782.3 663.9,784.2 664.5,786.1 665.1,788.0 665.7,789.9 666.4,791.8 667.0,793.7 667.7,795.6 668.3,797.4 669.0,799.3 669.7,801.2 670.4,803.1 671.1,804.9 671.8,806.8 672.5,808.7 673.2,810.5 673.9,812.4 674.7,814.2 675.4,816.1 676.2,817.9 677.0,819.8 677.7,821.6 678.5,823.5 679.3,825.3 680.0,827.2 680.8,829.0 681.6,830.9 682.4,832.7 683.1,834.6 683.9,836.4 684.7,838.2 685.5,840.1 686.2,841.9 687.0,843.8 687.8,845.6 688.5,847.5 689.3,849.3 690.1,851.2 690.8,853.0 691.6,854.9 692.3,856.7 693.1,858.6 693.8,860.4 694.5,862.3 695.3,864.1 696.0,866.0 696.8,867.9 697.5,869.7 698.2,871.6 698.9,873.5 699.6,875.3 700.3,877.2 701.0,879.1 701.7,881.0 702.4,882.8 703.1,884.7 703.8,886.6 704.5,888.4 705.2,890.3 705.9,892.2 706.6,894.1 707.2,896.0 707.9,897.8 708.6,899.7 709.2,901.6 709.9,903.5 710.5,905.4 711.2,907.3 711.8,909.2 712.5,911.1 713.1,913.0 713.8,914.9 714.4,916.7 715.1,918.6 715.8,920.5 716.4,922.4 717.1,924.3 717.8,926.2 718.5,928.0 719.2,929.9 719.9,931.8 720.7,933.6 721.4,935.5 722.1,937.3 722.9,939.2 723.7,941.0 724.5,942.8 725.2,944.7 726.0,946.5 726.8,948.3 727.6,950.2 728.4,952.0 729.2,953.8 730.1,955.6 731.0,957.4 731.9,959.2 732.8,960.9 733.7,962.7 734.5,964.6 735.3,966.4 736.1,968.2 737.0,970.0 737.9,971.8 738.9,973.6 739.8,975.3 740.8,977.1 741.7,978.8 742.7,980.6 743.6,982.4 744.6,984.1 745.4,985.9 746.3,987.7 747.1,989.6 747.9,991.4 748.7,993.2 749.5,995.0 750.4,996.9 751.3,998.6 752.2,1000.4 753.3,1002.1 754.3,1003.8 755.5,1005.5 756.6,1007.1 757.8,1008.7 758.9,1010.4 760.0,1012.0 761.1,1013.7 762.1,1015.4 763.2,1017.1 764.2,1018.9 765.2,1020.6 766.3,1022.3 767.3,1024.0 768.4,1025.6 769.5,1027.3 770.7,1029.0 771.8,1030.6 773.0,1032.2 774.1,1033.9 775.3,1035.4 776.6,1037.0 777.9,1038.6 779.2,1040.1 780.4,1041.6 781.7,1043.2 782.9,1044.8 784.0,1046.5 785.0,1048.2 786.0,1049.9 787.0,1051.7 787.9,1053.4 788.9,1055.2 789.9,1056.9 791.0,1058.6 792.0,1060.3 793.1,1062.0 794.1,1063.7 795.2,1065.4 796.3,1067.0 797.5,1068.7 798.6,1070.3 799.8,1071.9 801.0,1073.5 802.2,1075.2 803.3,1076.8 804.5,1078.4 805.8,1079.9 807.1,1081.4 808.5,1082.8 810.0,1084.2 811.6,1085.4 813.2,1086.5 815.0,1087.5 816.7,1088.4 818.5,1089.3 820.4,1090.2 822.2,1090.9 824.1,1091.6 826.0,1092.3 827.8,1093.1 829.7,1093.8 831.5,1094.7 833.2,1095.6 835.0,1096.6 836.7,1097.7 838.3,1098.8 839.9,1100.0 841.5,1101.2 843.0,1102.6 844.4,1104.0 845.8,1105.4 847.2,1106.9 848.5,1108.4 849.9,1109.8 851.2,1111.3 852.5,1112.8 853.8,1114.3 855.1,1115.9 856.4,1117.4 857.6,1119.0 858.9,1120.5 860.1,1122.1 861.3,1123.7 862.4,1125.4 863.5,1127.0 864.7,1128.7 865.8,1130.3 867.1,1131.9 868.4,1133.4 869.8,1134.8 871.3,1136.2 872.8,1137.4 874.4,1138.6 876.1,1139.7 877.9,1140.6 879.7,1141.5 881.5,1142.3 883.3,1143.2 885.1,1144.1 886.8,1145.0 888.5,1146.1 890.2,1147.1 891.9,1148.2 893.7,1149.2 895.4,1150.2 897.2,1151.2 898.9,1152.1 900.7,1152.9 902.5,1153.8 904.3,1154.7 906.1,1155.6 907.9,1156.4 909.7,1157.3 911.6,1158.1 913.4,1158.9 915.3,1159.6 917.2,1160.2 919.1,1160.8 921.0,1161.3 923.0,1161.9 924.9,1162.5 926.7,1163.2 928.6,1163.9 930.4,1164.7 932.3,1165.4 934.2,1166.0 936.1,1166.6 938.0,1167.3 939.9,1168.0 941.7,1168.7 943.5,1169.6 945.2,1170.7 946.8,1171.9 948.3,1173.2 949.8,1174.6 951.3,1175.9 952.8,1177.1 954.4,1178.4 956.0,1179.6 957.6,1180.8 959.2,1182.0 960.9,1183.1 962.6,1184.1 964.3,1185.1 966.1,1186.1 967.8,1187.0 969.6,1188.0 971.3,1188.9 973.1,1189.8 974.9,1190.7 976.7,1191.6 978.5,1192.5 980.3,1193.3 982.1,1194.2 983.9,1195.0 985.8,1195.8 987.6,1196.6 989.4,1197.4 991.3,1198.3 993.1,1199.1 994.9,1199.9 996.7,1200.8 998.5,1201.6 1000.4,1202.4 1002.2,1203.1 1004.1,1203.9 1005.9,1204.6 1007.8,1205.4 1009.7,1206.1 1011.6,1206.7 1013.4,1207.4 1015.3,1208.0 1017.2,1208.8 1019.1,1209.5 1020.9,1210.3 1022.7,1211.0 1024.6,1211.8 1026.4,1212.6 1028.3,1213.3 1030.1,1214.1 1032.0,1214.9 1033.8,1215.6 1035.7,1216.4 1037.5,1217.1 1039.4,1217.9 1041.2,1218.7 1043.1,1219.4 1044.9,1220.2 1046.8,1220.9 1048.7,1221.6 1050.5,1222.4 1052.4,1223.1 1054.2,1223.8 1056.1,1224.5 1058.0,1225.2 1059.9,1225.9 1061.7,1226.6 1063.6,1227.3 1065.5,1227.9 1067.4,1228.6 1069.3,1229.2 1071.2,1229.8 1073.1,1230.4 1075.0,1231.0 1076.9,1231.6 1078.8,1232.2 1080.7,1232.7 1082.7,1233.3 1084.6,1233.9 1086.5,1234.4 1088.4,1235.0 1090.3,1235.5 1092.3,1236.1 1094.2,1236.6 1096.1,1237.1 1098.0,1237.7 1100.0,1238.2 1101.9,1238.7 1103.8,1239.2 1105.8,1239.7 1107.7,1240.2 1109.6,1240.7 1111.6,1241.2 1113.5,1241.6 1115.5,1242.1 1117.4,1242.6 1119.3,1243.0 1121.3,1243.5 1123.2,1243.9 1125.2,1244.4 1127.1,1244.8 1129.1,1245.3 1131.1,1245.7 1133.0,1246.1 1135.0,1246.6 1136.9,1247.0 1138.9,1247.4 1140.8,1247.8 1142.8,1248.2 1144.8,1248.6 1146.7,1249.0 1148.7,1249.4 1150.6,1249.8 1152.6,1250.2 1154.6,1250.6 1156.5,1251.0 1158.5,1251.4 1160.4,1251.8 1162.4,1252.2 1164.4,1252.6 1166.3,1252.9 1168.3,1253.3 1170.3,1253.7 1172.2,1254.1 1174.2,1254.4 1176.2,1254.8 1178.1,1255.2 1180.1,1255.5 1182.1,1255.9 1184.0,1256.2 1186.0,1256.6 1188.0,1256.9 1189.9,1257.3 1191.9,1257.6 1193.9,1257.9 1195.9,1258.3 1197.8,1258.6 1199.8,1258.9 1201.8,1259.2 1203.8,1259.5 1205.7,1259.8 1207.7,1260.1 1209.7,1260.4 1211.7,1260.7 1213.6,1261.0 1215.6,1261.2 1217.6,1261.5 1219.6,1261.8 1221.6,1262.0 1223.6,1262.3 1225.5,1262.5 1227.5,1262.8 1229.5,1263.0 1231.5,1263.3 1233.5,1263.5 1235.5,1263.7 1237.4,1264.0 1239.4,1264.2 1241.4,1264.4 1243.4,1264.6 1245.4,1264.9 1247.4,1265.1 1249.4,1265.3 1251.4,1265.5 1253.4,1265.7 1255.3,1265.9 1257.3,1266.1 1259.3,1266.2 1261.3,1266.4 1263.3,1266.6 1265.3,1266.8 1267.3,1267.0 1269.3,1267.1 1271.3,1267.3 1273.3,1267.5 1275.3,1267.6 1277.3,1267.8 1279.3,1267.9 1281.3,1268.1 1283.2,1268.2 1285.2,1268.4 1287.2,1268.5 1289.2,1268.7 1291.2,1268.8 1293.2,1268.9 1295.2,1269.1 1297.2,1269.2 1299.2,1269.3 1301.2,1269.5 1303.2,1269.6 1305.2,1269.7 1307.2,1269.8 1309.2,1270.0 1311.2,1270.1 1313.2,1270.2 1315.2,1270.3 1317.2,1270.4 1319.2,1270.6 1321.2,1270.7 1323.2,1270.8 1325.2,1270.9 1327.2,1271.0 1329.2,1271.1 1331.2,1271.2 1333.2,1271.3 1335.2,1271.4 1337.1,1271.5 1339.1,1271.7 1341.1,1271.8 1343.1,1271.9 1345.1,1272.0 1347.1,1272.1 1349.1,1272.2 1351.1,1272.3 1353.1,1272.3 1355.1,1272.4 1357.1,1272.5 1359.1,1272.6 1361.1,1272.7 1363.1,1272.8 1365.1,1272.9 1367.1,1273.0 1369.1,1273.1 1371.1,1273.2 1373.1,1273.2 1375.1,1273.3 1377.1,1273.4 1379.1,1273.5 1381.1,1273.6 1383.1,1273.7 1385.1,1273.8 1387.1,1273.9 1389.1,1273.9 1391.1,1274.0 1393.1,1274.1 1395.1,1274.2 1397.1,1274.3 1399.1,1274.4 1401.1,1274.4 1403.1,1274.5 1405.1,1274.6 1407.1,1274.7 1409.1,1274.8 1411.1,1274.8 1413.1,1274.9 1415.1,1275.0 1417.1,1275.1 1419.1,1275.2 1421.1,1275.2 1423.1,1275.3 1425.1,1275.4 1427.1,1275.5 1429.1,1275.5 1431.1,1275.6 1433.1,1275.7 1435.1,1275.7 1437.1,1275.8 1439.1,1275.9 1441.1,1276.0 1443.1,1276.0 1445.1,1276.1 1447.1,1276.2 1449.0,1276.2 1451.0,1276.3 1453.0,1276.4 1455.0,1276.4 1457.0,1276.5 1459.0,1276.5 1461.0,1276.6 1463.0,1276.7 1465.0,1276.7 1467.0,1276.8 1469.0,1276.8 1471.0,1276.9 1473.0,1276.9 1475.0,1277.0 1477.0,1277.1 1479.0,1277.1 1481.0,1277.2 1483.0,1277.2 1485.0,1277.3 1487.0,1277.3 1489.0,1277.4 1491.0,1277.4 1493.0,1277.5 1495.0,1277.5 1497.0,1277.5 1499.0,1277.6 1501.0,1277.6 1503.0,1277.7 1505.0,1277.7 1507.0,1277.7 1509.0,1277.8 1511.0,1277.8 1513.0,1277.8 1515.0,1277.9 1517.0,1277.9 1519.0,1277.9 1521.0,1278.0 1523.0,1278.0 1525.0,1278.0 1527.0,1278.1 1529.0,1278.1 1531.0,1278.1 1533.0,1278.1 1535.0,1278.2 1537.0,1278.2 1539.0,1278.2 1541.0,1278.2 1543.0,1278.2 1545.0,1278.3 1547.0,1278.3 1549.0,1278.3 1551.0,1278.3 1553.0,1278.3 1555.0,1278.3 1557.0,1278.4 1559.0,1278.4 1561.0,1278.4 1563.0,1278.4 1565.0,1278.4 1567.0,1278.4 1569.0,1278.4 1571.0,1278.4 1573.0,1278.4 1575.0,1278.4 1577.0,1278.5 1579.0,1278.5 1581.0,1278.5 1583.0,1278.5 1585.0,1278.5 1587.0,1278.5 1589.0,1278.5 1591.0,1278.5 1593.0,1278.5 1595.0,1278.5 1597.0,1278.5 1599.0,1278.5 1601.0,1278.5 1603.0,1278.5 1605.0,1278.5 1607.0,1278.5 1609.0,1278.5 1611.0,1278.5 1613.0,1278.5 1615.0,1278.5 1617.0,1278.5 1619.0,1278.5 1621.0,1278.5 1623.0,1278.5 1625.0,1278.5 1627.0,1278.5 1629.0,1278.5 1631.0,1278.5 1633.0,1278.5 1635.0,1278.5 1637.0,1278.5 1639.0,1278.5 1641.0,1278.5 1643.0,1278.5 1645.0,1278.5 1647.0,1278.5 1649.0,1278.5 1651.0,1278.5 1653.0,1278.5 1655.0,1278.5 1657.0,1278.5 1659.0,1278.5 1661.0,1278.5 1663.0,1278.6 1665.0,1278.6 1667.0,1278.6 1669.0,1278.6 1671.0,1278.6 1673.0,1278.6 1675.0,1278.6 1677.0,1278.6 1679.0,1278.6 1681.0,1278.6 1683.0,1278.6 1685.0,1278.6 1687.0,1278.6 1689.0,1278.6 1691.0,1278.6 1693.0,1278.6 1695.0,1278.6 1697.0,1278.6 1699.0,1278.6 1701.0,1278.6 1703.0,1278.6 1705.0,1278.6 1707.0,1278.6 1709.0,1278.6 1711.0,1278.6 1713.0,1278.6 1715.0,1278.6 1717.0,1278.6 1719.0,1278.6 1721.0,1278.6 1723.0,1278.6 1725.0,1278.6 1727.0,1278.6 1729.0,1278.6 1731.0,1278.6 1733.0,1278.6 1735.0,1278.6 1737.0,1278.6 1739.0,1278.6 1741.0,1278.6 1743.0,1278.6 1745.0,1278.6 1747.0,1278.6 1749.0,1278.6 1751.0,1278.6 1753.0,1278.6 1755.0,1278.6 1757.0,1278.6 1759.0,1278.6 1761.0,1278.6 1763.0,1278.6 1765.0,1278.6 1767.0,1278.6 1769.0,1278.6 1771.0,1278.6 1773.0,1278.6 1775.0,1278.7 1777.0,1278.7 1779.0,1278.7 1781.0,1278.7 1783.0,1278.7 1785.0,1278.7 1787.0,1278.7 1789.0,1278.7 1791.0,1278.7 1793.0,1278.7 1795.0,1278.7 1797.0,1278.7 1799.0,1278.7 1801.0,1278.7 1803.0,1278.7 1805.0,1278.7 1807.0,1278.7 1809.0,1278.7 1811.0,1278.7 1813.0,1278.7 1815.0,1278.7 1817.0,1278.7 1819.0,1278.7 1821.0,1278.7 1823.0,1278.7 1825.0,1278.7 1827.0,1278.7 1829.0,1278.7 1831.0,1278.7 1833.0,1278.7 1835.0,1278.7 1837.0,1278.7 1839.0,1278.7 1841.0,1278.7 1843.0,1278.7 1845.0,1278.7 1847.0,1278.7 1849.0,1278.7 1851.0,1278.7 1853.0,1278.7 1855.0,1278.7 1857.0,1278.7 1859.0,1278.7 1861.0,1278.7 1863.0,1278.7 1865.0,1278.7 1867.0,1278.7 1869.0,1278.7 1871.0,1278.7 1873.0,1278.7 1875.0,1278.7 1877.0,1278.7 1879.0,1278.7 1881.0,1278.7 1883.0,1278.7 1885.0,1278.7 1887.0,1278.7 1889.0,1278.7 1891.0,1278.7 1893.0,1278.7 1895.0,1278.7 1897.0,1278.7 1899.0,1278.7 1901.0,1278.7 1903.0,1278.7 1905.0,1278.7 1907.0,1278.7 1909.0,1278.7 1911.0,1278.7 1913.0,1278.7 1915.0,1278.7 1917.0,1278.7 1919.0,1278.7 1921.0,1278.7 1923.0,1278.7 1925.0,1278.7 1927.0,1278.7 1929.0,1278.7 1931.0,1278.7 1933.0,1278.7 1935.0,1278.7 1937.0,1278.7 1939.0,1278.7 1941.0,1278.7 1943.0,1278.7 1945.0,1278.7 1947.0,1278.7 1949.0,1278.7 1953.0,1278.7"/>
<path class="curve" stroke="#00ff00" d="M154.0,1076.0 158.8,1075.3 160.4,1074.0 161.7,1072.5 162.8,1070.9 164.0,1069.2 165.0,1067.5 165.9,1065.7 166.7,1063.9 167.3,1062.0 168.0,1060.1 168.6,1058.2 169.2,1056.3 169.9,1054.4 170.6,1052.5 171.3,1050.6 172.0,1048.8 172.7,1046.9 173.4,1045.0 174.1,1043.2 174.7,1041.3 175.4,1039.4 176.0,1037.5 176.6,1035.6 177.2,1033.6 177.7,1031.7 178.3,1029.8 178.8,1027.9 179.3,1025.9 179.9,1024.0 180.4,1022.1 181.0,1020.2 181.5,1018.2 182.1,1016.3 182.6,1014.4 183.2,1012.5 183.7,1010.5 184.2,1008.6 184.7,1006.7 185.2,1004.7 185.7,1002.8 186.2,1000.9 186.6,998.9 187.1,997.0 187.6,995.0 188.1,993.1 188.5,991.1 189.0,989.2 189.5,987.3 189.9,985.3 190.4,983.4 190.8,981.4 191.3,979.5 191.7,977.5 192.1,975.6 192.6,973.6 193.0,971.7 193.4,969.7 193.8,967.7 194.3,965.8 194.7,963.8 195.1,961.9 195.6,959.9 196.0,958.0 196.4,956.0 196.8,954.1 197.2,952.1 197.6,950.2 198.1,948.2 198.5,946.2 198.9,944.3 199.3,942.3 199.6,940.4 200.0,938.4 200.4,936.4 200.8,934.5 201.1,932.5 201.5,930.5 201.9,928.6 202.2,926.6 202.6,924.6 202.9,922.7 203.3,920.7 203.6,918.7 204.0,916.7 204.3,914.8 204.7,912.8 205.0,910.8 205.4,908.9 205.7,906.9 206.0,904.9 206.4,903.0 206.7,901.0 207.1,899.0 207.4,897.1 207.7,895.1 208.1,893.1 208.4,891.1 208.7,889.2 209.1,887.2 209.4,885.2 209.7,883.3 210.1,881.3 210.4,879.3 210.7,877.3 211.1,875.4 211.4,873.4 211.7,871.4 212.0,869.4 212.4,867.5 212.7,865.5 213.0,863.5 213.3,861.6 213.7,859.6 214.0,857.6 214.3,855.6 214.7,853.7 215.0,851.7 215.3,849.7 215.6,847.7 215.9,845.8 216.3,843.8 216.6,841.8 216.9,839.9 217.2,837.9 217.6,835.9 217.9,833.9 218.2,832.0 218.6,830.0 218.9,828.0 219.2,826.0 219.6,824.1 219.9,822.1 220.2,820.1 220.5,818.2 220.9,816.2 221.2,814.2 221.6,812.2 221.9,810.3 222.2,808.3 222.5,806.3 222.9,804.4 223.2,802.4 223.5,800.4 223.9,798.4 224.2,796.5 224.5,794.5 224.8,792.5 225.2,790.5 225.5,788.6 225.8,786.6 226.1,784.6 226.4,782.6 226.7,780.7 227.0,778.7 227.3,776.7 227.6,774.7 227.9,772.8 228.2,770.8 228.5,768.8 228.8,766.8 229.1,764.8 229.4,762.9 229.7,760.9 230.0,758.9 230.3,756.9 230.6,755.0 230.9,753.0 231.2,751.0 231.5,749.0 231.8,747.0 232.1,745.1 232.4,743.1 232.7,741.1 233.0,739.1 233.3,737.2 233.6,735.2 233.9,733.2 234.2,731.2 234.6,729.3 234.9,727.3 235.2,725.3 235.5,723.3 235.8,721.4 236.2,719.4 236.5,717.4 236.8,715.5 237.2,713.5 237.5,711.5 237.8,709.5 238.2,707.6 238.5,705.6 238.9,703.6 239.2,701.7 239.6,699.7 240.0,697.7 240.3,695.8 240.7,693.8 241.1,691.8 241.4,689.9 241.8,687.9 242.2,685.9 242.6,684.0 243.0,682.0 243.4,680.1 243.8,678.1 244.2,676.1 244.6,674.2 245.0,672.2 245.4,670.3 245.8,668.3 246.2,666.4 246.7,664.4 247.1,662.5 247.5,660.5 247.9,658.5 248.4,656.6 248.8,654.6 249.2,652.7 249.6,650.7 250.1,648.8 250.5,646.8 250.9,644.9 251.4,642.9 251.8,641.0 252.3,639.0 252.7,637.1 253.1,635.1 253.6,633.2 254.0,631.2 254.4,629.3 254.9,627.3 255.3,625.3 255.7,623.4 256.2,621.4 256.6,619.5 257.0,617.5 257.5,615.6 257.9,613.6 258.3,611.7 258.7,609.7 259.1,607.8 259.6,605.8 260.0,603.9 260.4,601.9 260.8,599.9 261.2,598.0 261.6,596.0 262.0,594.1 262.4,592.1 262.8,590.2 263.2,588.2 263.6,586.2 264.0,584.3 264.4,582.3 264.8,580.3 265.2,578.4 265.6,576.4 266.0,574.5 266.4,572.5 266.7,570.5 267.1,568.6 267.5,566.6 267.9,564.6 268.3,562.7 268.7,560.7 269.0,558.8 269.4,556.8 269.8,554.8 270.2,552.9 270.6,550.9 271.0,548.9 271.4,547.0 271.8,545.0 272.2,543.1 272.6,541.1 273.0,539.1 273.4,537.2 273.8,535.2 274.2,533.3 274.6,531.3 275.0,529.4 275.4,527.4 275.8,525.4 276.3,523.5 276.7,521.5 277.1,519.6 277.5,517.6 278.0,515.7 278.4,513.7 278.9,511.8 279.3,509.8 279.7,507.9 280.2,505.9 280.7,504.0 281.1,502.0 281.6,500.1 282.0,498.2 282.5,496.2 283.0,494.3 283.4,492.3 283.9,490.4 284.4,488.4 284.9,486.5 285.4,484.6 285.9,482.6 286.4,480.7 286.9,478.8 287.4,476.8 287.9,474.9 288.4,473.0 288.9,471.0 289.5,469.1 290.0,467.2 290.5,465.2 291.0,463.3 291.5,461.4 292.1,459.4 292.6,457.5 293.1,455.6 293.6,453.6 294.2,451.7 294.7,449.8 295.2,447.8 295.7,445.9 296.3,444.0 296.8,442.0 297.3,440.1 297.9,438.2 298.4,436.3 298.9,434.3 299.5,432.4 300.0,430.5 300.6,428.6 301.2,426.6 301.7,424.7 302.3,422.8 302.9,420.9 303.4,419.0 304.0,417.1 304.6,415.2 305.2,413.3 305.8,411.4 306.4,409.5 307.1,407.6 307.7,405.7 308.3,403.8 309.0,401.9 309.6,400.0 310.3,398.1 311.0,396.2 311.6,394.4 312.3,392.5 313.0,390.6 313.7,388.8 314.4,386.9 315.1,385.0 315.9,383.2 316.6,381.3 317.3,379.4 318.0,377.6 318.8,375.7 319.5,373.9 320.3,372.0 321.0,370.2 321.8,368.3 322.6,366.5 323.3,364.7 324.1,362.8 324.9,361.0 325.7,359.2 326.5,357.3 327.3,355.5 328.1,353.7 329.0,351.9 329.8,350.0 330.6,348.2 331.5,346.4 332.3,344.6 333.1,342.8 334.0,341.0 334.9,339.2 335.7,337.4 336.6,335.6 337.5,333.8 338.3,332.0 339.2,330.2 340.1,328.4 341.0,326.6 341.8,324.8 342.7,323.0 343.6,321.2 344.5,319.4 345.4,317.6 346.2,315.8 347.1,314.0 348.0,312.2 348.9,310.4 349.7,308.6 350.6,306.8 351.4,305.0 352.3,303.1 353.1,301.3 354.0,299.5 354.8,297.7 355.7,295.9 356.5,294.1 357.3,292.3 358.2,290.4 359.0,288.6 359.8,286.8 360.7,285.0 361.5,283.2 362.4,281.4 363.2,279.6 364.0,277.7 364.9,275.9 365.7,274.1 366.6,272.3 367.4,270.5 368.3,268.7 369.1,266.9 369.9,265.1 370.8,263.2 371.6,261.4 372.4,259.6 373.2,257.7 373.9,255.9 374.7,254.1 375.5,252.2 376.3,250.4 377.1,248.5 377.8,246.7 378.6,244.8 379.4,243.0 380.1,241.1 380.9,239.3 381.7,237.5 382.5,235.6 383.3,233.8 384.1,231.9 384.9,230.1 385.7,228.3 386.5,226.5 387.3,224.6 388.2,222.8 389.0,221.0 389.9,219.2 390.8,217.4 391.6,215.6 392.5,213.8 393.5,212.1 394.4,210.3 395.3,208.5 396.3,206.8 397.2,205.0 398.0,203.2 398.9,201.4 399.8,199.6 400.6,197.7 401.5,195.9 402.4,194.2 403.3,192.4 404.2,190.6 405.1,188.8 405.9,187.0 406.8,185.2 407.7,183.4 408.6,181.6 409.5,179.8 410.4,178.1 411.3,176.3 412.3,174.5 413.3,172.8 414.3,171.0 415.2,169.3 416.2,167.6 417.2,165.8 418.3,164.1 419.3,162.4 420.4,160.7 421.5,159.1 422.7,157.4 423.9,155.8 425.2,154.3 426.5,152.9 428.0,151.5 429.5,150.2 431.1,149.0 432.8,148.0 434.6,147.0 436.5,146.3 438.4,145.8 440.4,145.5 442.4,145.4 444.4,145.5 446.3,145.9 448.3,146.3 450.2,147.0 452.0,147.9 453.4,149.2 454.6,150.7 455.4,152.6 456.2,154.4 456.9,156.3 457.8,158.1 458.6,159.9 459.5,161.7 460.4,163.5 461.3,165.3 462.2,167.1 463.0,168.9 463.8,170.7 464.6,172.6 465.3,174.4 466.1,176.3 466.8,178.1 467.6,180.0 468.4,181.8 469.2,183.7 470.0,185.5 470.8,187.3 471.6,189.1 472.5,190.9 473.3,192.8 474.2,194.6 474.9,196.5 475.8,198.3 476.9,199.8 478.4,200.9 480.3,201.4 482.3,201.6 484.3,201.7 486.3,202.0 488.3,202.3 490.2,202.7 492.2,203.2 494.1,203.7 496.0,204.3 497.9,204.8 499.9,205.2 501.9,205.6 503.8,206.1 505.6,206.8 507.4,207.7 509.3,208.5 511.1,209.3 512.9,210.1 514.7,211.0 516.5,212.0 518.1,213.1 519.7,214.3 521.3,215.5 522.9,216.7 524.4,218.0 525.9,219.4 527.4,220.7 528.8,222.1 530.2,223.5 531.6,224.9 533.0,226.4 534.4,227.9 535.7,229.4 536.9,230.9 538.2,232.5 539.3,234.1 540.4,235.8 541.3,237.6 542.2,239.4 543.1,241.2 544.0,243.0 544.9,244.7 545.8,246.5 546.7,248.3 547.6,250.1 548.5,251.9 549.4,253.7 550.2,255.5 551.1,257.3 551.9,259.1 552.8,260.9 553.5,262.8 554.3,264.6 555.1,266.5 555.8,268.3 556.5,270.2 557.2,272.1 557.9,273.9 558.6,275.8 559.3,277.7 560.0,279.6 560.6,281.5 561.2,283.4 561.9,285.3 562.5,287.2 563.1,289.1 563.7,291.0 564.2,292.9 564.8,294.8 565.3,296.7 565.9,298.7 566.4,300.6 567.0,302.5 567.5,304.4 568.0,306.4 568.6,308.3 569.2,310.2 569.7,312.1 570.3,314.0 570.9,316.0 571.4,317.9 572.0,319.8 572.6,321.7 573.1,323.6 573.7,325.5 574.3,327.4 574.9,329.4 575.4,331.3 576.0,333.2 576.5,335.1 577.1,337.1 577.6,339.0 578.2,340.9 578.7,342.8 579.2,344.8 579.8,346.7 580.3,348.6 580.8,350.5 581.4,352.5 581.9,354.4 582.5,356.3 583.0,358.2 583.5,360.2 584.1,362.1 584.6,364.0 585.1,366.0 585.6,367.9 586.1,369.8 586.7,371.8 587.2,373.7 587.7,375.6 588.2,377.6 588.7,379.5 589.2,381.4 589.7,383.4 590.2,385.3 590.7,387.2 591.1,389.2 591.6,391.1 592.1,393.0 592.6,395.0 593.0,396.9 593.5,398.9 594.0,400.8 594.4,402.8 594.9,404.7 595.3,406.7 595.8,408.6 596.2,410.6 596.6,412.5 597.1,414.5 597.5,416.4 597.9,418.4 598.4,420.3 598.8,422.3 599.2,424.2 599.6,426.2 600.0,428.1 600.4,430.1 600.8,432.1 601.3,434.0 601.7,436.0 602.1,437.9 602.5,439.9 602.9,441.8 603.4,443.8 603.8,445.8 604.2,447.7 604.6,449.7 605.1,451.6 605.5,453.6 605.9,455.5 606.4,457.5 606.8,459.4 607.3,461.4 607.7,463.3 608.1,465.3 608.6,467.2 609.1,469.2 609.5,471.1 610.0,473.0 610.4,475.0 610.9,476.9 611.4,478.9 611.8,480.8 612.3,482.8 612.8,484.7 613.2,486.7 613.7,488.6 614.2,490.5 614.6,492.5 615.1,494.4 615.6,496.4 616.1,498.3 616.6,500.2 617.1,502.2 617.5,504.1 618.0,506.1 618.5,508.0 619.0,509.9 619.5,511.9 620.0,513.8 620.5,515.8 621.0,517.7 621.5,519.6 622.0,521.6 622.5,523.5 623.0,525.5 623.4,527.4 623.9,529.3 624.4,531.3 624.9,533.2 625.4,535.2 625.9,537.1 626.3,539.0 626.8,541.0 627.3,542.9 627.8,544.9 628.2,546.8 628.7,548.8 629.2,550.7 629.6,552.6 630.1,554.6 630.6,556.5 631.0,558.5 631.5,560.4 631.9,562.4 632.4,564.3 632.8,566.3 633.3,568.2 633.8,570.2 634.2,572.1 634.7,574.1 635.2,576.0 635.6,577.9 636.1,579.9 636.6,581.8 637.1,583.8 637.5,585.7 638.0,587.7 638.5,589.6 639.0,591.5 639.4,593.5 639.9,595.4 640.4,597.4 640.9,599.3 641.4,601.2 641.9,603.2 642.3,605.1 642.8,607.1 643.3,609.0 643.8,610.9 644.3,612.9 644.8,614.8 645.3,616.8 645.8,618.7 646.3,620.6 646.8,622.6 647.3,624.5 647.8,626.4 648.3,628.4 648.8,630.3 649.3,632.3 649.8,634.2 650.3,636.1 650.8,638.1 651.3,640.0 651.8,641.9 652.3,643.9 652.8,645.8 653.3,647.7 653.8,649.7 654.3,651.6 654.8,653.5 655.3,655.5 655.8,657.4 656.3,659.3 656.8,661.3 657.3,663.2 657.9,665.1 658.4,667.1 658.9,669.0 659.4,670.9 659.9,672.9 660.4,674.8 660.9,676.7 661.4,678.7 661.9,680.6 662.5,682.5 663.0,684.5 663.5,686.4 664.0,688.3 664.5,690.3 665.0,692.2 665.5,694.1 666.0,696.1 666.5,698.0 667.1,699.9 667.6,701.9 668.1,703.8 668.6,705.7 669.1,707.7 669.6,709.6 670.1,711.5 670.6,713.5 671.2,715.4 671.7,717.3 672.2,719.3 672.8,721.2 673.3,723.1 673.9,725.0 674.4,727.0 675.0,728.9 675.5,730.8 676.1,732.7 676.7,734.6 677.3,736.5 677.8,738.5 678.4,740.4 679.0,742.3 679.6,744.2 680.2,746.1 680.8,748.0 681.5,749.9 682.1,751.8 682.7,753.7 683.3,755.6 683.9,757.5 684.6,759.4 685.2,761.3 685.8,763.2 686.4,765.1 687.1,767.0 687.7,768.9 688.4,770.8 689.0,772.7 689.6,774.6 690.3,776.4 690.9,778.3 691.6,780.2 692.2,782.1 692.9,784.0 693.5,785.9 694.2,787.8 694.8,789.7 695.5,791.6 696.1,793.5 696.8,795.4 697.4,797.2 698.1,799.1 698.7,801.0 699.4,802.9 700.1,804.8 700.7,806.7 701.4,808.6 702.0,810.5 702.7,812.3 703.4,814.2 704.0,816.1 704.7,818.0 705.3,819.9 705.9,821.8 706.6,823.7 707.2,825.6 707.8,827.5 708.5,829.4 709.1,831.3 709.7,833.2 710.3,835.1 711.0,837.0 711.6,838.9 712.2,840.8 712.8,842.7 713.4,844.6 714.0,846.5 714.6,848.4 715.1,850.4 715.7,852.3 716.3,854.2 716.9,856.1 717.5,858.0 718.1,859.9 718.7,861.8 719.2,863.7 719.8,865.6 720.4,867.6 721.0,869.5 721.6,871.4 722.2,873.3 722.8,875.2 723.3,877.1 723.9,879.0 724.5,881.0 725.1,882.9 725.6,884.8 726.2,886.7 726.7,888.6 727.3,890.6 727.8,892.5 728.4,894.4 728.9,896.3 729.5,898.2 730.1,900.1 730.7,902.0 731.4,903.9 732.0,905.8 732.7,907.7 733.4,909.6 734.2,911.4 734.9,913.3 735.7,915.1 736.4,917.0 737.2,918.8 738.0,920.7 738.8,922.5 739.7,924.3 740.5,926.1 741.4,927.9 742.3,929.7 743.3,931.4 744.2,933.2 745.2,934.9 746.2,936.7 747.2,938.4 748.1,940.2 749.0,942.0 750.0,943.7 750.9,945.5 751.8,947.3 752.7,949.1 753.7,950.8 754.6,952.6 755.6,954.3 756.6,956.1 757.6,957.8 758.6,959.6 759.5,961.3 760.5,963.1 761.4,964.8 762.3,966.6 763.2,968.4 764.0,970.3 764.8,972.1 765.6,973.9 766.4,975.7 767.3,977.5 768.2,979.3 769.2,981.1 770.2,982.7 771.3,984.4 772.5,986.1 773.6,987.7 774.6,989.4 775.7,991.1 776.7,992.9 777.7,994.6 778.7,996.3 779.7,998.0 780.7,999.8 781.7,1001.5 782.7,1003.2 783.7,1005.0 784.7,1006.7 785.7,1008.4 786.8,1010.1 787.8,1011.9 788.8,1013.6 789.8,1015.3 790.8,1017.1 791.8,1018.8 792.8,1020.5 793.8,1022.2 794.8,1024.0 795.8,1025.7 796.8,1027.4 797.8,1029.2 798.8,1030.9 799.9,1032.6 800.9,1034.3 802.0,1036.0 803.1,1037.6 804.3,1039.3 805.5,1040.8 806.8,1042.3 808.2,1043.7 809.7,1045.1 811.3,1046.4 812.8,1047.6 814.4,1048.8 816.0,1050.1 817.6,1051.3 819.2,1052.5 820.9,1053.6 822.6,1054.6 824.3,1055.5 826.1,1056.4 828.0,1057.2 829.8,1058.1 831.5,1059.1 833.2,1060.2 834.9,1061.3 836.5,1062.5 838.0,1063.7 839.6,1065.0 841.0,1066.4 842.4,1067.8 843.8,1069.3 845.1,1070.8 846.4,1072.3 847.7,1073.8 848.9,1075.4 850.1,1077.0 851.3,1078.6 852.5,1080.2 853.6,1081.8 854.8,1083.4 856.1,1085.0 857.3,1086.6 858.5,1088.2 859.7,1089.8 860.8,1091.5 861.8,1093.2 862.8,1094.9 863.8,1096.6 864.9,1098.3 866.2,1099.9 867.5,1101.4 868.8,1102.9 870.2,1104.3 871.7,1105.7 873.1,1107.0 874.6,1108.4 876.2,1109.6 877.8,1110.8 879.4,1112.0 881.1,1113.0 882.8,1114.0 884.6,1115.0 886.3,1116.0 888.0,1117.0 889.8,1118.1 891.5,1119.1 893.2,1120.2 894.9,1121.2 896.6,1122.2 898.3,1123.2 900.1,1124.1 901.9,1125.0 903.7,1125.9 905.5,1126.8 907.3,1127.7 909.1,1128.5 910.9,1129.3 912.7,1130.1 914.6,1130.9 916.4,1131.8 918.2,1132.6 920.0,1133.5 921.8,1134.4 923.6,1135.3 925.3,1136.3 927.1,1137.1 929.0,1138.0 930.8,1138.7 932.7,1139.4 934.6,1140.1 936.4,1140.8 938.3,1141.5 940.1,1142.3 942.0,1143.2 943.7,1144.1 945.3,1145.3 946.7,1146.7 948.1,1148.2 949.4,1149.6 950.8,1151.1 952.3,1152.4 953.9,1153.7 955.4,1154.9 957.0,1156.2 958.6,1157.4 960.2,1158.6 961.7,1159.8 963.3,1161.0 964.9,1162.2 966.5,1163.4 968.1,1164.6 969.8,1165.8 971.3,1167.0 972.9,1168.2 974.5,1169.5 976.1,1170.7 977.7,1171.9 979.3,1173.0 981.0,1174.2 982.6,1175.3 984.3,1176.4 986.0,1177.5 987.7,1178.5 989.4,1179.6 991.1,1180.7 992.8,1181.7 994.5,1182.8 996.2,1183.9 997.9,1184.9 999.6,1185.9 1001.3,1187.0 1003.0,1188.0 1004.7,1189.0 1006.5,1190.0 1008.2,1191.0 1010.0,1192.0 1011.7,1192.9 1013.5,1193.8 1015.3,1194.7 1017.0,1195.7 1018.8,1196.7 1020.5,1197.7 1022.2,1198.7 1024.0,1199.6 1025.7,1200.6 1027.5,1201.6 1029.2,1202.6 1030.9,1203.6 1032.7,1204.6 1034.4,1205.5 1036.2,1206.5 1037.9,1207.5 1039.6,1208.5 1041.4,1209.5 1043.1,1210.5 1044.9,1211.5 1046.6,1212.4 1048.4,1213.4 1050.1,1214.4 1051.9,1215.3 1053.6,1216.3 1055.4,1217.2 1057.2,1218.1 1059.0,1219.0 1060.7,1220.0 1062.5,1220.9 1064.3,1221.8 1066.1,1222.7 1067.9,1223.6 1069.6,1224.5 1071.4,1225.4 1073.2,1226.3 1075.0,1227.2 1076.8,1228.0 1078.6,1228.9 1080.4,1229.8 1082.3,1230.6 1084.1,1231.4 1085.9,1232.3 1087.7,1233.1 1089.6,1233.9 1091.4,1234.6 1093.2,1235.4 1095.1,1236.2 1096.9,1237.0 1098.8,1237.7 1100.6,1238.4 1102.5,1239.1 1104.4,1239.9 1106.2,1240.6 1108.1,1241.2 1110.0,1241.9 1111.9,1242.6 1113.7,1243.2 1115.6,1243.9 1117.5,1244.5 1119.4,1245.1 1121.3,1245.8 1123.2,1246.4 1125.1,1246.9 1127.0,1247.5 1128.9,1248.1 1130.9,1248.7 1132.8,1249.2 1134.7,1249.8 1136.6,1250.3 1138.6,1250.8 1140.5,1251.3 1142.4,1251.8 1144.4,1252.3 1146.3,1252.8 1148.2,1253.3 1150.2,1253.8 1152.1,1254.3 1154.1,1254.7 1156.0,1255.2 1158.0,1255.6 1159.9,1256.1 1161.9,1256.5 1163.8,1256.9 1165.8,1257.3 1167.7,1257.8 1169.7,1258.2 1171.7,1258.6 1173.6,1258.9 1175.6,1259.3 1177.6,1259.7 1179.5,1260.1 1181.5,1260.4 1183.5,1260.8 1185.4,1261.1 1187.4,1261.5 1189.4,1261.8 1191.4,1262.1 1193.3,1262.4 1195.3,1262.8 1197.3,1263.1 1199.3,1263.4 1201.2,1263.7 1203.2,1264.0 1205.2,1264.3 1207.2,1264.6 1209.2,1264.9 1211.1,1265.1 1213.1,1265.4 1215.1,1265.7 1217.1,1266.0 1219.1,1266.2 1221.0,1266.5 1223.0,1266.8 1225.0,1267.0 1227.0,1267.3 1229.0,1267.5 1230.9,1267.8 1232.9,1268.0 1234.9,1268.3 1236.9,1268.5 1238.9,1268.7 1240.9,1268.9 1242.9,1269.2 1244.8,1269.4 1246.8,1269.6 1248.8,1269.8 1250.8,1270.0 1252.8,1270.2 1254.8,1270.4 1256.8,1270.6 1258.8,1270.8 1260.8,1270.9 1262.8,1271.1 1264.8,1271.3 1266.7,1271.5 1268.7,1271.6 1270.7,1271.8 1272.7,1271.9 1274.7,1272.1 1276.7,1272.2 1278.7,1272.4 1280.7,1272.5 1282.7,1272.7 1284.7,1272.8 1286.7,1273.0 1288.7,1273.1 1290.7,1273.2 1292.7,1273.4 1294.7,1273.5 1296.7,1273.6 1298.7,1273.7 1300.7,1273.9 1302.7,1274.0 1304.7,1274.1 1306.7,1274.2 1308.7,1274.3 1310.7,1274.4 1312.6,1274.6 1314.6,1274.7 1316.6,1274.8 1318.6,1274.9 1320.6,1275.0 1322.6,1275.1 1324.6,1275.2 1326.6,1275.3 1328.6,1275.4 1330.6,1275.5 1332.6,1275.6 1334.6,1275.7 1336.6,1275.8 1338.6,1275.9 1340.6,1275.9 1342.6,1276.0 1344.6,1276.1 1346.6,1276.2 1348.6,1276.3 1350.6,1276.3 1352.6,1276.4 1354.6,1276.5 1356.6,1276.5 1358.6,1276.6 1360.6,1276.7 1362.6,1276.7 1364.6,1276.8 1366.6,1276.8 1368.6,1276.9 1370.6,1276.9 1372.6,1277.0 1374.6,1277.1 1376.6,1277.1 1378.6,1277.2 1380.6,1277.2 1382.6,1277.3 1384.6,1277.3 1386.6,1277.4 1388.6,1277.4 1390.6,1277.5 1392.6,1277.5 1394.6,1277.6 1396.6,1277.6 1398.6,1277.7 1400.6,1277.7 1402.6,1277.7 1404.6,1277.8 1406.6,1277.8 1408.6,1277.9 1410.6,1277.9 1412.6,1278.0 1414.6,1278.0 1416.6,1278.0 1418.6,1278.1 1420.6,1278.1 1422.6,1278.2 1424.6,1278.2 1426.6,1278.2 1428.6,1278.3 1430.6,1278.3 1432.6,1278.4 1434.6,1278.4 1436.6,1278.4 1438.6,1278.5 1440.6,1278.5 1442.6,1278.5 1444.6,1278.6 1446.6,1278.6 1448.6,1278.6 1450.6,1278.7 1452.6,1278.7 1454.6,1278.7 1456.6,1278.7 1458.6,1278.8 1460.6,1278.8 1462.6,1278.8 1464.6,1278.9 1466.6,1278.9 1468.6,1278.9 1470.6,1278.9 1472.6,1279.0 1474.6,1279.0 1476.6,1279.0 1478.6,1279.0 1480.6,1279.1 1482.6,1279.1 1484.6,1279.1 1486.6,1279.1 1488.6,1279.1 1490.6,1279.2 1492.6,1279.2 1494.6,1279.2 1496.6,1279.2 1498.6,1279.2 1500.6,1279.3 1502.6,1279.3 1504.6,1279.3 1506.6,1279.3 1508.6,1279.3 1510.6,1279.3 1512.6,1279.4 1514.6,1279.4 1516.6,1279.4 1518.6,1279.4 1520.6,1279.4 1522.6,1279.4 1524.6,1279.4 1526.6,1279.4 1528.6,1279.5 1530.6,1279.5 1532.6,1279.5 1534.6,1279.5 1536.6,1279.5 1538.6,1279.5 1540.6,1279.5 1542.6,1279.5 1544.6,1279.5 1546.6,1279.5 1548.6,1279.6 1550.6,1279.6 1552.6,1279.6 1554.6,1279.6 1556.6,1279.6 1558.6,1279.6 1560.6,1279.6 1562.6,1279.6 1564.6,1279.6 1566.6,1279.6 1568.6,1279.6 1570.6,1279.6 1572.6,1279.6 1574.6,1279.6 1576.6,1279.6 1578.6,1279.6 1580.6,1279.6 1582.6,1279.6 1584.6,1279.6 1586.6,1279.6 1588.6,1279.6 1590.6,1279.6 1592.6,1279.6 1594.6,1279.7 1596.6,1279.7 1598.6,1279.7 1600.6,1279.7 1602.6,1279.7 1604.6,1279.7 1606.6,1279.7 1608.6,1279.7 1610.6,1279.7 1612.6,1279.7 1614.6,1279.7 1616.6,1279.7 1618.6,1279.7 1620.6,1279.7 1622.6,1279.7 1624.6,1279.7 1626.6,1279.7 1628.6,1279.7 1630.6,1279.7 1632.6,1279.7 1634.6,1279.7 1636.6,1279.7 1638.6,1279.7 1640.6,1279.7 1642.6,1279.7 1644.6,1279.7 1646.6,1279.7 1648.6,1279.7 1650.6,1279.7 1652.6,1279.7 1654.6,1279.7 1656.6,1279.7 1658.6,1279.7 1660.6,1279.7 1662.6,1279.7 1664.6,1279.7 1666.6,1279.7 1668.6,1279.7 1670.6,1279.7 1672.6,1279.7 1674.6,1279.7 1676.6,1279.7 1678.6,1279.7 1680.6,1279.7 1682.6,1279.7 1684.6,1279.7 1686.6,1279.7 1688.6,1279.7 1690.6,1279.7 1692.6,1279.7 1694.6,1279.7 1696.6,1279.7 1698.6,1279.7 1700.6,1279.7 1702.6,1279.7 1704.6,1279.7 1706.6,1279.7 1708.6,1279.7 1710.6,1279.7 1712.6,1279.7 1714.6,1279.7 1716.6,1279.7 1718.6,1279.7 1720.6,1279.7 1722.6,1279.7 1724.6,1279.7 1726.6,1279.7 1728.6,1279.7 1730.6,1279.7 1732.6,1279.7 1734.6,1279.7 1736.6,1279.7 1738.6,1279.7 1740.6,1279.7 1742.6,1279.8 1744.6,1279.8 1746.6,1279.8 1748.6,1279.8 1750.6,1279.8 1752.6,1279.8 1754.6,1279.8 1756.6,1279.8 1758.6,1279.8 1760.6,1279.8 1762.6,1279.8 1764.6,1279.8 1766.6,1279.8 1768.6,1279.8 1770.6,1279.8 1772.6,1279.8 1774.6,1279.8 1776.6,1279.8 1778.6,1279.8 1780.6,1279.8 1782.6,1279.8 1784.6,1279.8 1786.6,1279.8 1788.6,1279.8 1790.6,1279.8 1792.6,1279.8 1794.6,1279.8 1796.6,1279.8 1798.6,1279.8 1800.6,1279.8 1802.6,1279.8 1804.6,1279.8 1806.6,1279.8 1808.6,1279.8 1810.6,1279.8 1812.6,1279.8 1814.6,1279.8 1816.6,1279.8 1818.6,1279.8 1820.6,1279.8 1822.6,1279.8 1824.6,1279.8 1826.6,1279.8 1828.6,1279.8 1830.6,1279.8 1832.6,1279.8 1834.6,1279.8 1836.6,1279.8 1838.6,1279.8 1840.6,1279.8 1842.6,1279.8 1844.6,1279.8 1846.6,1279.8 1848.6,1279.8 1850.6,1279.8 1852.6,1279.8 1854.6,1279.8 1856.6,1279.8 1858.6,1279.8 1860.6,1279.8 1862.6,1279.8 1864.6,1279.8 1866.6,1279.8 1868.6,1279.8 1870.6,1279.8 1872.6,1279.8 1874.6,1279.8 1876.6,1279.8 1878.6,1279.8 1880.6,1279.8 1882.6,1279.8 1884.6,1279.8 1886.6,1279.8 1888.6,1279.8 1890.6,1279.8 1892.6,1279.8 1894.6,1279.8 1896.6,1279.8 1898.6,1279.8 1900.6,1279.8 1902.6,1279.8 1904.6,1279.8 1906.6,1279.8 1908.6,1279.8 1910.6,1279.8 1912.6,1279.8 1914.6,1279.8 1916.6,1279.8 1918.6,1279.8 1920.6,1279.8 1922.6,1279.8 1924.6,1279.8 1926.6,1279.8 1928.6,1279.8 1930.6,1279.8 1932.6,1279.8 1934.6,1279.8 1936.6,1279.8 1938.6,1279.8 1940.6,1279.8 1942.6,1279.8 1944.6,1279.8 1946.6,1279.8 1948.6,1279.8 1953.0,1279.8"/>
<path class="curve" stroke="#0000ff" d="M154.0,1090.5 158.8,1089.8 160.3,1088.4 161.5,1086.8 162.6,1085.1 163.6,1083.4 164.6,1081.7 165.5,1079.9 166.3,1078.0 167.0,1076.2 167.6,1074.3 168.1,1072.3 168.7,1070.4 169.2,1068.5 169.7,1066.5 170.2,1064.6 170.7,1062.7 171.3,1060.8 171.8,1058.8 172.4,1056.9 173.0,1055.0 173.5,1053.1 174.0,1051.1 174.6,1049.2 175.1,1047.3 175.6,1045.4 176.1,1043.4 176.6,1041.5 177.1,1039.5 177.6,1037.6 178.0,1035.7 178.5,1033.7 178.9,1031.8 179.4,1029.8 179.8,1027.9 180.2,1025.9 180.7,1023.9 181.1,1022.0 181.5,1020.0 181.9,1018.1 182.3,1016.1 182.7,1014.2 183.1,1012.2 183.5,1010.2 183.9,1008.3 184.2,1006.3 184.6,1004.3 185.0,1002.4 185.4,1000.4 185.8,998.4 186.2,996.5 186.6,994.5 187.0,992.6 187.5,990.6 187.9,988.7 188.3,986.7 188.8,984.8 189.2,982.8 189.7,980.9 190.1,978.9 190.5,977.0 191.0,975.0 191.4,973.1 191.8,971.1 192.3,969.2 192.7,967.2 193.2,965.3 193.6,963.3 194.0,961.4 194.4,959.4 194.9,957.5 195.3,955.5 195.7,953.6 196.1,951.6 196.5,949.6 196.9,947.7 197.4,945.7 197.8,943.8 198.2,941.8 198.6,939.8 199.0,937.9 199.4,935.9 199.8,934.0 200.2,932.0 200.6,930.1 201.0,928.1 201.3,926.1 201.7,924.2 202.1,922.2 202.5,920.2 202.9,918.3 203.3,916.3 203.6,914.4 204.0,912.4 204.4,910.4 204.7,908.5 205.1,906.5 205.4,904.5 205.8,902.6 206.2,900.6 206.5,898.6 206.9,896.6 207.2,894.7 207.6,892.7 207.9,890.7 208.3,888.8 208.7,886.8 209.0,884.8 209.4,882.9 209.7,880.9 210.1,878.9 210.5,877.0 210.9,875.0 211.3,873.1 211.6,871.1 212.0,869.1 212.4,867.2 212.8,865.2 213.2,863.3 213.6,861.3 214.0,859.3 214.4,857.4 214.8,855.4 215.3,853.5 215.7,851.5 216.1,849.6 216.5,847.6 216.9,845.7 217.3,843.7 217.8,841.7 218.2,839.8 218.6,837.8 219.1,835.9 219.5,833.9 219.9,832.0 220.4,830.0 220.8,828.1 221.3,826.1 221.7,824.2 222.1,822.2 222.6,820.3 223.0,818.3 223.5,816.4 223.9,814.4 224.4,812.5 224.8,810.6 225.3,808.6 225.7,806.7 226.2,804.7 226.7,802.8 227.1,800.8 227.6,798.9 228.0,796.9 228.5,795.0 228.9,793.0 229.4,791.1 229.8,789.1 230.3,787.2 230.7,785.2 231.2,783.3 231.6,781.3 232.1,779.4 232.5,777.4 233.0,775.5 233.4,773.5 233.8,771.6 234.3,769.6 234.7,767.7 235.1,765.7 235.6,763.8 236.0,761.8 236.4,759.9 236.9,757.9 237.3,756.0 237.7,754.0 238.1,752.1 238.6,750.1 239.0,748.1 239.4,746.2 239.8,744.2 240.2,742.3 240.7,740.3 241.1,738.4 241.5,736.4 241.9,734.5 242.3,732.5 242.8,730.5 243.2,728.6 243.6,726.6 244.0,724.7 244.5,722.7 244.9,720.8 245.3,718.8 245.8,716.9 246.2,714.9 246.6,713.0 247.0,711.0 247.5,709.0 247.9,707.1 248.3,705.1 248.7,703.2 249.1,701.2 249.6,699.3 250.0,697.3 250.4,695.4 250.8,693.4 251.2,691.4 251.6,689.5 252.0,687.5 252.4,685.6 252.8,683.6 253.2,681.6 253.6,679.7 253.9,677.7 254.3,675.8 254.7,673.8 255.1,671.8 255.4,669.9 255.8,667.9 256.2,665.9 256.5,664.0 256.9,662.0 257.3,660.0 257.6,658.1 258.0,656.1 258.3,654.1 258.7,652.2 259.0,650.2 259.4,648.2 259.7,646.3 260.1,644.3 260.4,642.3 260.8,640.3 261.1,638.4 261.5,636.4 261.8,634.4 262.1,632.5 262.5,630.5 262.8,628.5 263.2,626.6 263.5,624.6 263.9,622.6 264.2,620.6 264.5,618.7 264.9,616.7 265.2,614.7 265.6,612.8 265.9,610.8 266.3,608.8 266.6,606.9 267.0,604.9 267.3,602.9 267.7,600.9 268.0,599.0 268.4,597.0 268.7,595.0 269.1,593.1 269.5,591.1 269.8,589.1 270.2,587.2 270.6,585.2 270.9,583.2 271.3,581.3 271.7,579.3 272.1,577.3 272.4,575.4 272.8,573.4 273.2,571.5 273.6,569.5 274.0,567.5 274.4,565.6 274.8,563.6 275.3,561.7 275.7,559.7 276.1,557.8 276.6,555.8 277.0,553.9 277.4,551.9 277.9,550.0 278.4,548.0 278.8,546.1 279.3,544.1 279.7,542.2 280.2,540.2 280.7,538.3 281.2,536.4 281.7,534.4 282.1,532.5 282.6,530.5 283.1,528.6 283.6,526.7 284.1,524.7 284.6,522.8 285.1,520.9 285.6,518.9 286.1,517.0 286.6,515.1 287.1,513.1 287.6,511.2 288.2,509.3 288.7,507.3 289.2,505.4 289.7,503.5 290.3,501.5 290.8,499.6 291.3,497.7 291.9,495.8 292.4,493.8 293.0,491.9 293.5,490.0 294.1,488.1 294.6,486.1 295.2,484.2 295.8,482.3 296.3,480.4 296.9,478.5 297.5,476.6 298.1,474.7 298.7,472.8 299.3,470.8 299.9,468.9 300.5,467.0 301.1,465.1 301.8,463.2 302.4,461.3 303.0,459.4 303.7,457.6 304.3,455.7 305.0,453.8 305.6,451.9 306.3,450.0 307.0,448.1 307.6,446.2 308.3,444.4 309.0,442.5 309.7,440.6 310.4,438.7 311.1,436.9 311.8,435.0 312.5,433.1 313.2,431.3 313.9,429.4 314.6,427.5 315.3,425.7 316.1,423.8 316.8,421.9 317.5,420.1 318.3,418.2 319.0,416.4 319.8,414.5 320.5,412.7 321.3,410.8 322.0,409.0 322.8,407.1 323.6,405.3 324.4,403.5 325.2,401.6 326.0,399.8 326.8,397.9 327.6,396.1 328.4,394.3 329.2,392.5 330.0,390.6 330.8,388.8 331.7,387.0 332.5,385.2 333.3,383.3 334.2,381.5 335.0,379.7 335.8,377.9 336.7,376.1 337.5,374.3 338.3,372.4 339.2,370.6 340.0,368.8 340.9,367.0 341.7,365.2 342.6,363.4 343.5,361.6 344.3,359.8 345.2,358.0 346.0,356.2 346.9,354.3 347.8,352.5 348.6,350.7 349.5,348.9 350.3,347.1 351.2,345.3 352.1,343.5 353.0,341.7 353.8,339.9 354.7,338.1 355.5,336.3 356.4,334.5 357.3,332.7 358.2,330.9 359.0,329.1 359.9,327.3 360.8,325.5 361.7,323.8 362.6,322.0 363.5,320.2 364.4,318.4 365.3,316.6 366.2,314.8 367.1,313.0 368.0,311.3 368.9,309.5 369.8,307.7 370.7,305.9 371.6,304.1 372.6,302.3 373.5,300.6 374.4,298.8 375.3,297.0 376.1,295.2 377.0,293.4 377.9,291.6 378.8,289.8 379.7,288.0 380.6,286.2 381.4,284.4 382.3,282.6 383.2,280.8 384.1,279.0 384.9,277.2 385.8,275.4 386.6,273.6 387.5,271.8 388.3,270.0 389.2,268.2 390.0,266.4 390.9,264.6 391.7,262.8 392.6,260.9 393.4,259.1 394.2,257.3 395.0,255.5 395.8,253.6 396.5,251.7 397.2,249.9 397.9,248.0 398.7,246.2 399.5,244.3 400.3,242.5 401.3,240.7 402.2,239.0 403.2,237.3 404.2,235.5 405.3,233.8 406.3,232.1 407.4,230.4 408.4,228.7 409.4,226.9 410.4,225.2 411.4,223.5 412.4,221.7 413.4,220.0 414.5,218.4 415.6,216.7 416.8,215.1 418.0,213.5 419.2,211.9 420.5,210.3 421.8,208.8 423.1,207.3 424.5,205.9 425.9,204.4 427.4,203.2 429.1,202.2 431.0,201.6 433.0,201.2 435.0,201.0 437.0,200.9 439.0,201.0 441.0,201.2 442.8,201.8 444.4,202.9 445.7,204.4 446.9,206.0 448.2,207.6 449.6,209.0 451.1,210.3 452.4,211.8 453.6,213.4 454.4,215.2 455.0,217.1 455.5,219.1 455.9,221.0 456.4,222.9 456.9,224.9 457.4,226.8 457.8,228.8 458.3,230.7 458.8,232.7 459.3,234.6 459.8,236.5 460.3,238.5 460.8,240.4 461.3,242.4 461.7,244.3 462.2,246.2 462.7,248.2 463.2,250.1 463.7,252.0 464.3,254.0 464.8,255.9 465.3,257.8 465.8,259.8 466.3,261.7 466.8,263.6 467.3,265.6 467.8,267.5 468.3,269.4 468.9,271.4 469.4,273.3 469.9,275.2 470.5,277.2 471.0,279.1 471.6,281.0 472.1,282.9 472.7,284.8 473.2,286.8 473.7,288.7 474.2,290.6 474.7,292.6 475.1,294.5 475.6,296.5 476.1,298.4 476.6,300.3 477.3,302.2 478.0,304.1 478.8,305.9 479.8,307.7 480.8,309.4 481.9,311.1 483.1,312.7 484.3,314.3 485.6,315.8 486.8,317.4 488.0,319.0 489.2,320.6 490.5,322.1 491.7,323.7 493.1,325.2 494.4,326.6 495.8,328.1 497.3,329.5 498.7,330.8 500.2,332.2 501.7,333.5 503.1,334.9 504.5,336.3 505.9,337.7 507.4,339.2 508.8,340.6 510.2,341.9 511.7,343.3 513.1,344.7 514.5,346.1 515.9,347.6 517.2,349.1 518.6,350.6 519.9,352.0 521.3,353.5 522.6,355.0 523.9,356.6 525.1,358.1 526.3,359.7 527.5,361.3 528.7,362.9 529.9,364.5 531.1,366.1 532.4,367.7 533.6,369.2 534.9,370.8 536.1,372.4 537.2,374.0 538.4,375.6 539.5,377.3 540.7,378.9 541.8,380.6 542.9,382.2 544.0,383.9 545.1,385.6 546.1,387.4 547.0,389.1 548.0,390.9 548.9,392.6 549.8,394.4 550.6,396.2 551.5,398.0 552.3,399.8 553.2,401.7 554.0,403.5 554.8,405.3 555.6,407.2 556.3,409.0 557.1,410.8 557.8,412.7 558.6,414.6 559.3,416.4 560.0,418.3 560.7,420.2 561.4,422.0 562.1,423.9 562.8,425.8 563.5,427.6 564.2,429.5 564.9,431.4 565.5,433.3 566.2,435.2 566.8,437.1 567.5,439.0 568.2,440.9 568.8,442.7 569.5,444.6 570.1,446.5 570.8,448.4 571.4,450.3 572.0,452.2 572.7,454.1 573.3,456.0 573.9,457.9 574.5,459.8 575.1,461.7 575.7,463.6 576.3,465.6 576.9,467.5 577.5,469.4 578.1,471.3 578.7,473.2 579.3,475.1 579.9,477.0 580.5,478.9 581.1,480.9 581.7,482.8 582.3,484.7 582.8,486.6 583.4,488.5 584.0,490.4 584.6,492.3 585.2,494.2 585.7,496.2 586.3,498.1 586.9,500.0 587.4,501.9 588.0,503.8 588.6,505.8 589.1,507.7 589.7,509.6 590.3,511.5 590.8,513.4 591.4,515.3 591.9,517.3 592.5,519.2 593.0,521.1 593.6,523.0 594.2,525.0 594.7,526.9 595.3,528.8 595.8,530.7 596.3,532.6 596.9,534.6 597.4,536.5 598.0,538.4 598.5,540.3 599.1,542.3 599.6,544.2 600.1,546.1 600.7,548.1 601.2,550.0 601.7,551.9 602.2,553.8 602.8,555.8 603.3,557.7 603.8,559.6 604.3,561.6 604.8,563.5 605.4,565.4 605.9,567.4 606.4,569.3 606.9,571.2 607.5,573.2 608.0,575.1 608.5,577.0 609.1,578.9 609.6,580.9 610.1,582.8 610.7,584.7 611.2,586.6 611.8,588.6 612.3,590.5 612.9,592.4 613.4,594.3 614.0,596.3 614.5,598.2 615.1,600.1 615.7,602.0 616.2,603.9 616.8,605.8 617.4,607.7 618.0,609.7 618.6,611.6 619.2,613.5 619.7,615.4 620.3,617.3 620.9,619.2 621.6,621.1 622.2,623.0 622.8,624.9 623.4,626.8 624.0,628.7 624.6,630.6 625.3,632.5 625.9,634.4 626.5,636.3 627.2,638.2 627.8,640.1 628.5,642.0 629.1,643.9 629.8,645.8 630.4,647.6 631.1,649.5 631.8,651.4 632.4,653.3 633.1,655.2 633.8,657.1 634.4,659.0 635.1,660.8 635.8,662.7 636.4,664.6 637.1,666.5 637.8,668.4 638.4,670.3 639.1,672.2 639.8,674.0 640.4,675.9 641.1,677.8 641.8,679.7 642.4,681.6 643.1,683.5 643.7,685.4 644.4,687.3 645.0,689.1 645.7,691.0 646.3,692.9 647.0,694.8 647.6,696.7 648.2,698.6 648.9,700.5 649.5,702.4 650.1,704.3 650.7,706.2 651.4,708.1 652.0,710.0 652.6,711.9 653.2,713.8 653.8,715.7 654.4,717.7 655.0,719.6 655.6,721.5 656.2,723.4 656.9,725.3 657.5,727.2 658.1,729.1 658.7,731.0 659.4,732.9 660.0,734.8 660.6,736.7 661.3,738.5 661.9,740.4 662.6,742.3 663.3,744.2 663.9,746.1 664.6,748.0 665.3,749.8 666.0,751.7 666.7,753.6 667.4,755.5 668.1,757.3 668.8,759.2 669.5,761.0 670.2,762.9 671.0,764.8 671.7,766.6 672.4,768.5 673.2,770.3 673.9,772.2 674.7,774.0 675.5,775.8 676.3,777.7 677.0,779.5 677.8,781.3 678.6,783.2 679.4,785.0 680.2,786.8 681.0,788.7 681.8,790.5 682.6,792.3 683.5,794.1 684.3,796.0 685.1,797.8 685.9,799.6 686.7,801.4 687.6,803.3 688.4,805.1 689.2,806.9 690.0,808.7 690.9,810.5 691.7,812.4 692.5,814.2 693.3,816.0 694.1,817.8 695.0,819.7 695.8,821.5 696.6,823.3 697.3,825.2 698.1,827.0 698.9,828.8 699.7,830.7 700.5,832.5 701.2,834.4 702.0,836.2 702.7,838.1 703.5,839.9 704.3,841.7 705.1,843.6 705.8,845.4 706.6,847.3 707.3,849.1 708.0,851.0 708.7,852.9 709.4,854.8 710.1,856.6 710.8,858.5 711.5,860.4 712.1,862.3 712.8,864.2 713.4,866.1 714.1,868.0 714.8,869.8 715.4,871.7 716.1,873.6 716.7,875.5 717.4,877.4 718.1,879.3 718.8,881.2 719.4,883.0 720.1,884.9 720.8,886.8 721.5,888.7 722.2,890.6 722.9,892.4 723.6,894.3 724.3,896.2 725.0,898.0 725.7,899.9 726.4,901.8 727.2,903.6 728.0,905.5 728.8,907.3 729.6,909.1 730.4,911.0 731.2,912.8 732.0,914.6 732.9,916.4 733.8,918.2 734.6,920.0 735.5,921.8 736.5,923.6 737.4,925.3 738.3,927.1 739.3,928.8 740.3,930.6 741.4,932.3 742.4,934.0 743.5,935.7 744.5,937.4 745.6,939.1 746.6,940.8 747.6,942.5 748.6,944.3 749.6,946.0 750.6,947.7 751.7,949.4 752.7,951.1 753.7,952.9 754.7,954.6 755.8,956.3 756.8,958.0 757.9,959.7 758.9,961.4 760.0,963.1 761.2,964.7 762.3,966.4 763.4,968.0 764.6,969.6 765.8,971.2 767.0,972.8 768.3,974.3 769.6,975.9 770.9,977.3 772.3,978.8 773.7,980.3 775.0,981.8 776.2,983.3 777.5,984.9 778.6,986.6 779.7,988.2 780.9,989.9 782.0,991.5 783.1,993.2 784.3,994.8 785.4,996.4 786.6,998.1 787.7,999.7 788.9,1001.4 790.0,1003.0 791.1,1004.6 792.3,1006.3 793.4,1007.9 794.5,1009.6 795.7,1011.2 796.9,1012.8 798.1,1014.4 799.3,1016.0 800.5,1017.6 801.7,1019.2 803.0,1020.8 804.3,1022.3 805.7,1023.7 807.1,1025.1 808.6,1026.5 810.1,1027.7 811.8,1028.8 813.5,1029.8 815.4,1030.6 817.2,1031.4 819.1,1032.1 820.9,1032.9 822.7,1033.7 824.5,1034.6 826.3,1035.5 828.1,1036.4 829.8,1037.4 831.5,1038.5 833.2,1039.6 834.8,1040.8 836.4,1042.0 837.9,1043.2 839.5,1044.5 841.0,1045.9 842.4,1047.2 843.8,1048.6 845.2,1050.1 846.6,1051.5 848.0,1052.9 849.4,1054.4 850.7,1055.9 852.1,1057.4 853.4,1058.9 854.7,1060.4 856.0,1061.9 857.4,1063.3 858.8,1064.8 860.1,1066.2 861.5,1067.7 863.0,1069.1 864.4,1070.5 865.8,1071.9 867.3,1073.3 868.7,1074.6 870.2,1076.0 871.7,1077.3 873.2,1078.6 874.8,1079.8 876.4,1081.0 878.0,1082.2 879.7,1083.3 881.4,1084.3 883.1,1085.3 884.9,1086.3 886.7,1087.2 888.4,1088.2 890.2,1089.1 891.9,1090.1 893.7,1091.0 895.5,1091.9 897.2,1092.9 899.0,1093.9 900.7,1094.9 902.4,1096.0 904.0,1097.1 905.7,1098.3 907.3,1099.4 909.0,1100.4 910.8,1101.4 912.6,1102.3 914.4,1103.1 916.2,1103.8 918.1,1104.6 919.9,1105.5 921.7,1106.3 923.5,1107.2 925.3,1108.2 927.0,1109.1 928.8,1110.0 930.6,1110.9 932.4,1111.7 934.2,1112.6 936.0,1113.4 937.8,1114.3 939.6,1115.3 941.3,1116.3 942.9,1117.4 944.5,1118.6 946.1,1119.9 947.6,1121.2 949.1,1122.6 950.6,1123.9 952.1,1125.2 953.6,1126.5 955.2,1127.8 956.7,1129.0 958.3,1130.3 959.8,1131.6 961.4,1132.8 962.9,1134.1 964.5,1135.3 966.1,1136.6 967.6,1137.8 969.2,1139.1 970.8,1140.3 972.3,1141.5 973.9,1142.8 975.4,1144.0 977.0,1145.3 978.6,1146.5 980.1,1147.8 981.7,1149.1 983.2,1150.3 984.8,1151.6 986.3,1152.8 987.9,1154.1 989.5,1155.3 991.1,1156.5 992.7,1157.7 994.3,1158.9 995.9,1160.1 997.5,1161.3 999.1,1162.5 1000.7,1163.7 1002.3,1164.9 1003.9,1166.1 1005.5,1167.3 1007.1,1168.5 1008.7,1169.7 1010.3,1170.9 1011.9,1172.1 1013.5,1173.3 1015.1,1174.5 1016.7,1175.7 1018.3,1176.9 1019.8,1178.1 1021.4,1179.4 1023.0,1180.6 1024.6,1181.9 1026.1,1183.1 1027.7,1184.4 1029.2,1185.6 1030.8,1186.8 1032.4,1188.1 1034.0,1189.3 1035.6,1190.5 1037.2,1191.7 1038.8,1192.9 1040.4,1194.1 1042.0,1195.3 1043.6,1196.4 1045.3,1197.6 1046.9,1198.7 1048.6,1199.8 1050.2,1200.9 1051.9,1202.0 1053.6,1203.1 1055.2,1204.2 1056.9,1205.3 1058.6,1206.4 1060.3,1207.4 1062.0,1208.5 1063.7,1209.6 1065.4,1210.6 1067.1,1211.7 1068.8,1212.7 1070.5,1213.8 1072.2,1214.8 1073.9,1215.8 1075.7,1216.8 1077.4,1217.8 1079.1,1218.8 1080.9,1219.8 1082.6,1220.8 1084.4,1221.7 1086.1,1222.7 1087.9,1223.6 1089.7,1224.6 1091.4,1225.5 1093.2,1226.4 1095.0,1227.3 1096.8,1228.2 1098.6,1229.1 1100.4,1230.0 1102.2,1230.8 1104.0,1231.7 1105.8,1232.5 1107.6,1233.3 1109.5,1234.2 1111.3,1235.0 1113.1,1235.8 1115.0,1236.5 1116.8,1237.3 1118.7,1238.1 1120.5,1238.8 1122.4,1239.6 1124.2,1240.3 1126.1,1241.0 1127.9,1241.7 1129.8,1242.4 1131.7,1243.1 1133.6,1243.8 1135.4,1244.4 1137.3,1245.1 1139.2,1245.7 1141.1,1246.4 1143.0,1247.0 1144.9,1247.6 1146.8,1248.2 1148.7,1248.8 1150.6,1249.4 1152.5,1250.0 1154.4,1250.5 1156.4,1251.1 1158.3,1251.6 1160.2,1252.2 1162.1,1252.7 1164.1,1253.2 1166.0,1253.7 1168.0,1254.2 1169.9,1254.7 1171.8,1255.2 1173.8,1255.6 1175.7,1256.1 1177.7,1256.5 1179.6,1257.0 1181.6,1257.4 1183.6,1257.8 1185.5,1258.3 1187.5,1258.7 1189.4,1259.1 1191.4,1259.5 1193.4,1259.9 1195.3,1260.3 1197.3,1260.6 1199.3,1261.0 1201.2,1261.4 1203.2,1261.7 1205.2,1262.1 1207.1,1262.4 1209.1,1262.8 1211.1,1263.1 1213.0,1263.4 1215.0,1263.8 1217.0,1264.1 1219.0,1264.4 1220.9,1264.7 1222.9,1265.0 1224.9,1265.3 1226.9,1265.6 1228.9,1265.9 1230.8,1266.2 1232.8,1266.4 1234.8,1266.7 1236.8,1267.0 1238.8,1267.2 1240.7,1267.5 1242.7,1267.8 1244.7,1268.0 1246.7,1268.3 1248.7,1268.5 1250.7,1268.7 1252.7,1269.0 1254.6,1269.2 1256.6,1269.4 1258.6,1269.6 1260.6,1269.9 1262.6,1270.1 1264.6,1270.3 1266.6,1270.5 1268.6,1270.7 1270.5,1270.9 1272.5,1271.1 1274.5,1271.3 1276.5,1271.5 1278.5,1271.6 1280.5,1271.8 1282.5,1272.0 1284.5,1272.2 1286.5,1272.3 1288.5,1272.5 1290.5,1272.7 1292.5,1272.8 1294.5,1273.0 1296.5,1273.1 1298.5,1273.3 1300.4,1273.4 1302.4,1273.6 1304.4,1273.7 1306.4,1273.9 1308.4,1274.0 1310.4,1274.1 1312.4,1274.3 1314.4,1274.4 1316.4,1274.5 1318.4,1274.7 1320.4,1274.8 1322.4,1274.9 1324.4,1275.0 1326.4,1275.2 1328.4,1275.3 1330.4,1275.4 1332.4,1275.5 1334.4,1275.6 1336.4,1275.7 1338.4,1275.8 1340.4,1275.9 1342.4,1276.0 1344.4,1276.2 1346.4,1276.2 1348.4,1276.3 1350.4,1276.4 1352.4,1276.5 1354.3,1276.6 1356.3,1276.7 1358.3,1276.8 1360.3,1276.9 1362.3,1276.9 1364.3,1277.0 1366.3,1277.1 1368.3,1277.2 1370.3,1277.2 1372.3,1277.3 1374.3,1277.4 1376.3,1277.4 1378.3,1277.5 1380.3,1277.6 1382.3,1277.6 1384.3,1277.7 1386.3,1277.7 1388.3,1277.8 1390.3,1277.9 1392.3,1277.9 1394.3,1278.0 1396.3,1278.0 1398.3,1278.1 1400.3,1278.1 1402.3,1278.2 1404.3,1278.2 1406.3,1278.2 1408.3,1278.3 1410.3,1278.3 1412.3,1278.4 1414.3,1278.4 1416.3,1278.5 1418.3,1278.5 1420.3,1278.5 1422.3,1278.6 1424.3,1278.6 1426.3,1278.6 1428.3,1278.7 1430.3,1278.7 1432.3,1278.7 1434.3,1278.8 1436.3,1278.8 1438.3,1278.9 1440.3,1278.9 1442.3,1278.9 1444.3,1279.0 1446.3,1279.0 1448.3,1279.0 1450.3,1279.1 1452.3,1279.1 1454.3,1279.1 1456.3,1279.2 1458.3,1279.2 1460.3,1279.2 1462.3,1279.3 1464.3,1279.3 1466.3,1279.3 1468.3,1279.3 1470.3,1279.4 1472.3,1279.4 1474.3,1279.4 1476.3,1279.5 1478.3,1279.5 1480.3,1279.5 1482.3,1279.6 1484.3,1279.6 1486.3,1279.6 1488.3,1279.6 1490.3,1279.7 1492.3,1279.7 1494.3,1279.7 1496.3,1279.7 1498.3,1279.8 1500.3,1279.8 1502.3,1279.8 1504.3,1279.8 1506.3,1279.9 1508.3,1279.9 1510.3,1279.9 1512.3,1279.9 1514.3,1280.0 1516.3,1280.0 1518.3,1280.0 1520.3,1280.0 1522.3,1280.0 1524.3,1280.1 1526.3,1280.1 1528.3,1280.1 1530.3,1280.1 1532.3,1280.1 1534.3,1280.1 1536.3,1280.2 1538.3,1280.2 1540.3,1280.2 1542.3,1280.2 1544.3,1280.2 1546.3,1280.2 1548.3,1280.2 1550.3,1280.2 1552.3,1280.3 1554.3,1280.3 1556.3,1280.3 1558.3,1280.3 1560.3,1280.3 1562.3,1280.3 1564.3,1280.3 1566.3,1280.3 1568.3,1280.3 1570.3,1280.3 1572.3,1280.3 1574.3,1280.3 1576.3,1280.3 1578.3,1280.3 1580.3,1280.3 1582.3,1280.3 1584.3,1280.3 1586.3,1280.3 1588.3,1280.4 1590.3,1280.4 1592.3,1280.4 1594.3,1280.4 1596.3,1280.4 1598.3,1280.4 1600.3,1280.4 1602.3,1280.4 1604.3,1280.4 1606.3,1280.4 1608.3,1280.4 1610.3,1280.4 1612.3,1280.4 1614.3,1280.4 1616.3,1280.4 1618.3,1280.4 1620.3,1280.4 1622.3,1280.4 1624.3,1280.4 1626.3,1280.4 1628.3,1280.4 1630.3,1280.4 1632.3,1280.4 1634.3,1280.4 1636.3,1280.4 1638.3,1280.4 1640.3,1280.4 1642.3,1280.4 1644.3,1280.4 1646.3,1280.4 1648.3,1280.4 1650.3,1280.4 1652.3,1280.4 1654.3,1280.4 1656.3,1280.4 1658.3,1280.4 1660.3,1280.4 1662.3,1280.4 1664.3,1280.4 1666.3,1280.4 1668.3,1280.4 1670.3,1280.4 1672.3,1280.4 1674.3,1280.4 1676.3,1280.4 1678.3,1280.4 1680.3,1280.4 1682.3,1280.4 1684.3,1280.4 1686.3,1280.4 1688.3,1280.4 1690.3,1280.4 1692.3,1280.4 1694.3,1280.4 1696.3,1280.4 1698.3,1280.4 1700.3,1280.4 1702.3,1280.4 1704.3,1280.4 1706.3,1280.4 1708.3,1280.4 1710.3,1280.4 1712.3,1280.4 1714.3,1280.4 1716.3,1280.4 1718.3,1280.4 1720.3,1280.4 1722.3,1280.4 1724.3,1280.4 1726.3,1280.4 1728.3,1280.4 1730.3,1280.4 1732.3,1280.4 1734.3,1280.4 1736.3,1280.4 1738.3,1280.4 1740.3,1280.5 1742.3,1280.5 1744.3,1280.5 1746.3,1280.5 1748.3,1280.5 1750.3,1280.5 1752.3,1280.5 1754.3,1280.5 1756.3,1280.5 1758.3,1280.5 1760.3,1280.5 1762.3,1280.5 1764.3,1280.5 1766.3,1280.5 1768.3,1280.5 1770.3,1280.5 1772.3,1280.5 1774.3,1280.5 1776.3,1280.5 1778.3,1280.5 1780.3,1280.5 1782.3,1280.5 1784.3,1280.5 1786.3,1280.5 1788.3,1280.5 1790.3,1280.5 1792.3,1280.5 1794.3,1280.5 1796.3,1280.5 1798.3,1280.5 1800.3,1280.5 1802.3,1280.5 1804.3,1280.5 1806.3,1280.5 1808.3,1280.5 1810.3,1280.5 1812.3,1280.5 1814.3,1280.5 1816.3,1280.5 1818.3,1280.5 1820.3,1280.5 1822.3,1280.5 1824.3,1280.5 1826.3,1280.5 1828.3,1280.5 1830.3,1280.5 1832.3,1280.5 1834.3,1280.5 1836.3,1280.5 1838.3,1280.5 1840.3,1280.5 1842.3,1280.5 1844.3,1280.5 1846.3,1280.5 1848.3,1280.5 1850.3,1280.5 1852.3,1280.5 1854.3,1280.5 1856.3,1280.5 1858.3,1280.5 1860.3,1280.5 1862.3,1280.5 1864.3,1280.5 1866.3,1280.5 1868.3,1280.5 1870.3,1280.5 1872.3,1280.5 1874.3,1280.5 1876.3,1280.5 1878.3,1280.5 1880.3,1280.5 1882.3,1280.5 1884.3,1280.5 1886.3,1280.5 1888.3,1280.5 1890.3,1280.5 1892.3,1280.5 1894.3,1280.5 1896.3,1280.5 1898.3,1280.5 1900.3,1280.5 1902.3,1280.5 1904.3,1280.5 1906.3,1280.5 1908.3,1280.5 1910.3,1280.5 1912.3,1280.5 1914.3,1280.5 1916.3,1280.5 1918.3,1280.5 1920.3,1280.5 1922.3,1280.5 1924.3,1280.5 1926.3,1280.5 1928.3,1280.5 1930.3,1280.5 1932.3,1280.5 1934.3,1280.5 1936.3,1280.5 1938.3,1280.5 1940.3,1280.5 1942.3,1280.5 1944.3,1280.5 1946.3,1280.5 1948.3,1280.5 1953.0,1280.5"/>
</g>
<!-- tick labels -->
<text transform="translate(135.38,1379) scale(1,1.0)" style="font-size:52px;letter-spacing:0.943px">200</text>
<text transform="translate(578.81,1379) scale(1,1.0)" style="font-size:52px;letter-spacing:0.232px">400</text>
<text transform="translate(1020.36,1379) scale(1,1.0)" style="font-size:52px;letter-spacing:0.956px">600</text>
<text transform="translate(1462.74,1379) scale(1,1.0)" style="font-size:52px;letter-spacing:0.766px">800</text>
<text transform="translate(1891.84,1379) scale(1,1.0)" style="font-size:52px;letter-spacing:0.238px">1000</text>
<!-- axis titles -->
<text transform="translate(864.75,1451) scale(1,1.0)" style="font-size:57.8px;letter-spacing:0.034px">Wavelength [nm]</text>
<text transform="translate(90,1024.74) rotate(-90)" style="font-size:57.8px;letter-spacing:0.149px">Kubelka-Munk function [a.u.]</text>
<!-- legend -->
<g stroke-linecap="round" fill="none">
<path stroke="#000000" stroke-width="6" d="M1102,161 H1218"/>
<path stroke="#ff0000" stroke-width="6" d="M1102,225 H1218"/>
<path stroke="#00ff00" stroke-width="6" d="M1102,289 H1218"/>
<path stroke="#0000ff" stroke-width="5" d="M1101.5,353.5 H1218.5"/>
</g>
<text transform="translate(1232.40,179) scale(1,1.02)" style="font-size:52px;letter-spacing:0.363px">fresh 30%NHPI_5%DVB</text>
<text transform="translate(1232.74,243) scale(1,1.02)" style="font-size:52px;letter-spacing:0.314px">30%NHPI_5%DVB_1h</text>
<text transform="translate(1232.74,308) scale(1,1.02)" style="font-size:52px;letter-spacing:0.314px">30%NHPI_5%DVB_2h</text>
<text transform="translate(1232.74,372) scale(1,1.02)" style="font-size:52px;letter-spacing:0.314px">30%NHPI_5%DVB_6h</text>
</svg>
</body>
</html>
